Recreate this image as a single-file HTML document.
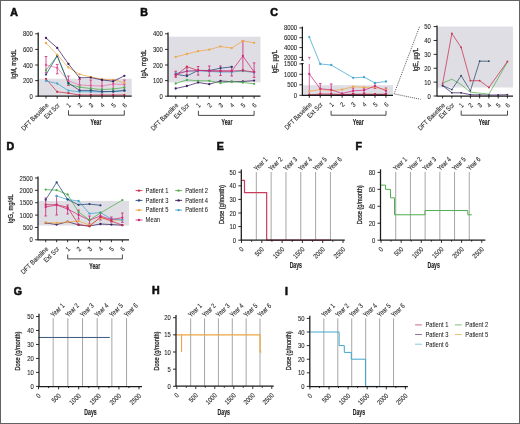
<!DOCTYPE html><html><head><meta charset="utf-8"><style>html,body{margin:0;padding:0;background:#fff;}svg{display:block;}text{font-family:"Liberation Sans", sans-serif;}</style></head><body>
<svg width="520" height="424" viewBox="0 0 520 424">
<rect x="0" y="0" width="520" height="424" fill="#fff"/>
<defs><filter id="soft" x="-2%" y="-2%" width="104%" height="104%"><feGaussianBlur stdDeviation="0.3"/></filter></defs>
<g filter="url(#soft)">
<text transform="translate(10.2,15.6)" font-size="10.6" font-weight="bold" fill="#111" stroke="#111" stroke-width="0.6">A</text>
<rect x="38.2" y="78.7" width="93.5" height="17.5" fill="#dfdee4"/>
<line x1="46" y1="56.5" x2="46" y2="72.8" stroke="#d12b7f" stroke-width="0.85"/>
<line x1="44.7" y1="56.5" x2="47.3" y2="56.5" stroke="#d12b7f" stroke-width="0.85"/>
<line x1="44.7" y1="72.8" x2="47.3" y2="72.8" stroke="#d12b7f" stroke-width="0.85"/>
<line x1="57.2" y1="64.4" x2="57.2" y2="73.8" stroke="#d12b7f" stroke-width="0.85"/>
<line x1="55.9" y1="64.4" x2="58.5" y2="64.4" stroke="#d12b7f" stroke-width="0.85"/>
<line x1="55.9" y1="73.8" x2="58.5" y2="73.8" stroke="#d12b7f" stroke-width="0.85"/>
<line x1="68.4" y1="76" x2="68.4" y2="85.5" stroke="#d12b7f" stroke-width="0.85"/>
<line x1="67.1" y1="76" x2="69.7" y2="76" stroke="#d12b7f" stroke-width="0.85"/>
<line x1="67.1" y1="85.5" x2="69.7" y2="85.5" stroke="#d12b7f" stroke-width="0.85"/>
<line x1="79.6" y1="79.5" x2="79.6" y2="91" stroke="#d12b7f" stroke-width="0.85"/>
<line x1="78.3" y1="79.5" x2="80.9" y2="79.5" stroke="#d12b7f" stroke-width="0.85"/>
<line x1="78.3" y1="91" x2="80.9" y2="91" stroke="#d12b7f" stroke-width="0.85"/>
<line x1="90.8" y1="80" x2="90.8" y2="92" stroke="#d12b7f" stroke-width="0.85"/>
<line x1="89.5" y1="80" x2="92.1" y2="80" stroke="#d12b7f" stroke-width="0.85"/>
<line x1="89.5" y1="92" x2="92.1" y2="92" stroke="#d12b7f" stroke-width="0.85"/>
<line x1="102" y1="80" x2="102" y2="93" stroke="#d12b7f" stroke-width="0.85"/>
<line x1="100.7" y1="80" x2="103.3" y2="80" stroke="#d12b7f" stroke-width="0.85"/>
<line x1="100.7" y1="93" x2="103.3" y2="93" stroke="#d12b7f" stroke-width="0.85"/>
<line x1="113.2" y1="79.5" x2="113.2" y2="92" stroke="#d12b7f" stroke-width="0.85"/>
<line x1="111.9" y1="79.5" x2="114.5" y2="79.5" stroke="#d12b7f" stroke-width="0.85"/>
<line x1="111.9" y1="92" x2="114.5" y2="92" stroke="#d12b7f" stroke-width="0.85"/>
<line x1="124.4" y1="80" x2="124.4" y2="91" stroke="#d12b7f" stroke-width="0.85"/>
<line x1="123.1" y1="80" x2="125.7" y2="80" stroke="#d12b7f" stroke-width="0.85"/>
<line x1="123.1" y1="91" x2="125.7" y2="91" stroke="#d12b7f" stroke-width="0.85"/>
<polyline points="46,78.8 57.2,91.8 68.4,93.1 79.6,95 90.8,95 102,95 113.2,95 124.4,95" fill="none" stroke="#c8304f" stroke-width="0.75" stroke-linejoin="round"/>
<circle cx="46" cy="78.8" r="1.15" fill="#c8304f"/>
<circle cx="57.2" cy="91.8" r="1.15" fill="#c8304f"/>
<circle cx="68.4" cy="93.1" r="1.15" fill="#c8304f"/>
<circle cx="79.6" cy="95" r="1.15" fill="#c8304f"/>
<circle cx="90.8" cy="95" r="1.15" fill="#c8304f"/>
<circle cx="102" cy="95" r="1.15" fill="#c8304f"/>
<circle cx="113.2" cy="95" r="1.15" fill="#c8304f"/>
<circle cx="124.4" cy="95" r="1.15" fill="#c8304f"/>
<polyline points="46,80.9 57.2,83.5 68.4,90.6 79.6,91.7 90.8,91.7 102,92 113.2,91.5 124.4,90.5" fill="none" stroke="#40a6cf" stroke-width="0.75" stroke-linejoin="round"/>
<circle cx="46" cy="80.9" r="1.15" fill="#40a6cf"/>
<circle cx="57.2" cy="83.5" r="1.15" fill="#40a6cf"/>
<circle cx="68.4" cy="90.6" r="1.15" fill="#40a6cf"/>
<circle cx="79.6" cy="91.7" r="1.15" fill="#40a6cf"/>
<circle cx="90.8" cy="91.7" r="1.15" fill="#40a6cf"/>
<circle cx="102" cy="92" r="1.15" fill="#40a6cf"/>
<circle cx="113.2" cy="91.5" r="1.15" fill="#40a6cf"/>
<circle cx="124.4" cy="90.5" r="1.15" fill="#40a6cf"/>
<polyline points="46,70.3 57.2,55.8 68.4,84 79.6,87.2 90.8,88.5 102,89.5 113.2,89 124.4,87.5" fill="none" stroke="#4fae4f" stroke-width="0.75" stroke-linejoin="round"/>
<circle cx="46" cy="70.3" r="1.15" fill="#4fae4f"/>
<circle cx="57.2" cy="55.8" r="1.15" fill="#4fae4f"/>
<circle cx="68.4" cy="84" r="1.15" fill="#4fae4f"/>
<circle cx="79.6" cy="87.2" r="1.15" fill="#4fae4f"/>
<circle cx="90.8" cy="88.5" r="1.15" fill="#4fae4f"/>
<circle cx="102" cy="89.5" r="1.15" fill="#4fae4f"/>
<circle cx="113.2" cy="89" r="1.15" fill="#4fae4f"/>
<circle cx="124.4" cy="87.5" r="1.15" fill="#4fae4f"/>
<polyline points="46,74.6 57.2,55.8 68.4,83 79.6,90.4 90.8,90.4 102,91.5 113.2,91.5 124.4,90.5" fill="none" stroke="#25477a" stroke-width="0.75" stroke-linejoin="round"/>
<circle cx="46" cy="74.6" r="1.15" fill="#25477a"/>
<circle cx="57.2" cy="55.8" r="1.15" fill="#25477a"/>
<circle cx="68.4" cy="83" r="1.15" fill="#25477a"/>
<circle cx="79.6" cy="90.4" r="1.15" fill="#25477a"/>
<circle cx="90.8" cy="90.4" r="1.15" fill="#25477a"/>
<circle cx="102" cy="91.5" r="1.15" fill="#25477a"/>
<circle cx="113.2" cy="91.5" r="1.15" fill="#25477a"/>
<circle cx="124.4" cy="90.5" r="1.15" fill="#25477a"/>
<polyline points="46,64.9 57.2,67.9 68.4,80.8 79.6,85 90.8,85.6 102,86 113.2,84 124.4,84.5" fill="none" stroke="#e05a98" stroke-width="0.6" stroke-linejoin="round"/>
<circle cx="46" cy="64.9" r="1.15" fill="#e05a98"/>
<circle cx="57.2" cy="67.9" r="1.15" fill="#e05a98"/>
<circle cx="68.4" cy="80.8" r="1.15" fill="#e05a98"/>
<circle cx="79.6" cy="85" r="1.15" fill="#e05a98"/>
<circle cx="90.8" cy="85.6" r="1.15" fill="#e05a98"/>
<circle cx="102" cy="86" r="1.15" fill="#e05a98"/>
<circle cx="113.2" cy="84" r="1.15" fill="#e05a98"/>
<circle cx="124.4" cy="84.5" r="1.15" fill="#e05a98"/>
<polyline points="46,43 57.2,54.8 68.4,67.4 79.6,74.3 90.8,77 102,79.2 113.2,79.8 124.4,82.7" fill="none" stroke="#eea544" stroke-width="0.75" stroke-linejoin="round"/>
<circle cx="46" cy="43" r="1.15" fill="#eea544"/>
<circle cx="57.2" cy="54.8" r="1.15" fill="#eea544"/>
<circle cx="68.4" cy="67.4" r="1.15" fill="#eea544"/>
<circle cx="79.6" cy="74.3" r="1.15" fill="#eea544"/>
<circle cx="90.8" cy="77" r="1.15" fill="#eea544"/>
<circle cx="102" cy="79.2" r="1.15" fill="#eea544"/>
<circle cx="113.2" cy="79.8" r="1.15" fill="#eea544"/>
<circle cx="124.4" cy="82.7" r="1.15" fill="#eea544"/>
<polyline points="46,38 57.2,47.9 68.4,63.9 79.6,77.8 90.8,77.6 102,79.9 113.2,81.3 124.4,75.8" fill="none" stroke="#3c1f5e" stroke-width="0.75" stroke-linejoin="round"/>
<circle cx="46" cy="38" r="1.15" fill="#3c1f5e"/>
<circle cx="57.2" cy="47.9" r="1.15" fill="#3c1f5e"/>
<circle cx="68.4" cy="63.9" r="1.15" fill="#3c1f5e"/>
<circle cx="79.6" cy="77.8" r="1.15" fill="#3c1f5e"/>
<circle cx="90.8" cy="77.6" r="1.15" fill="#3c1f5e"/>
<circle cx="102" cy="79.9" r="1.15" fill="#3c1f5e"/>
<circle cx="113.2" cy="81.3" r="1.15" fill="#3c1f5e"/>
<circle cx="124.4" cy="75.8" r="1.15" fill="#3c1f5e"/>
<line x1="38.2" y1="32.6" x2="38.2" y2="96.2" stroke="#1a1a1a" stroke-width="1.25"/>
<line x1="35.2" y1="33.8" x2="38.2" y2="33.8" stroke="#1a1a1a" stroke-width="0.9"/>
<text transform="translate(32.9,36.3) scale(0.88,1)" font-size="6.7" text-anchor="end" fill="#2a2a2a" stroke="#2a2a2a" stroke-width="0.1">800</text>
<line x1="35.2" y1="49.4" x2="38.2" y2="49.4" stroke="#1a1a1a" stroke-width="0.9"/>
<text transform="translate(32.9,51.9) scale(0.88,1)" font-size="6.7" text-anchor="end" fill="#2a2a2a" stroke="#2a2a2a" stroke-width="0.1">600</text>
<line x1="35.2" y1="65" x2="38.2" y2="65" stroke="#1a1a1a" stroke-width="0.9"/>
<text transform="translate(32.9,67.5) scale(0.88,1)" font-size="6.7" text-anchor="end" fill="#2a2a2a" stroke="#2a2a2a" stroke-width="0.1">400</text>
<line x1="35.2" y1="80.6" x2="38.2" y2="80.6" stroke="#1a1a1a" stroke-width="0.9"/>
<text transform="translate(32.9,83.1) scale(0.88,1)" font-size="6.7" text-anchor="end" fill="#2a2a2a" stroke="#2a2a2a" stroke-width="0.1">200</text>
<line x1="35.2" y1="96.2" x2="38.2" y2="96.2" stroke="#1a1a1a" stroke-width="0.9"/>
<text transform="translate(32.9,98.7) scale(0.88,1)" font-size="6.7" text-anchor="end" fill="#2a2a2a" stroke="#2a2a2a" stroke-width="0.1">0</text>
<text transform="translate(13.8,64.1) rotate(-90) scale(0.85,1)" font-size="6.9" text-anchor="middle" fill="#222" dominant-baseline="central" stroke="#222" stroke-width="0.25">IgM, mg/dL</text>
<line x1="37.7" y1="96.2" x2="131.7" y2="96.2" stroke="#1a1a1a" stroke-width="1.25"/>
<line x1="46" y1="96.2" x2="46" y2="98.6" stroke="#1a1a1a" stroke-width="0.9"/>
<line x1="57.2" y1="96.2" x2="57.2" y2="98.6" stroke="#1a1a1a" stroke-width="0.9"/>
<line x1="68.4" y1="96.2" x2="68.4" y2="98.6" stroke="#1a1a1a" stroke-width="0.9"/>
<line x1="79.6" y1="96.2" x2="79.6" y2="98.6" stroke="#1a1a1a" stroke-width="0.9"/>
<line x1="90.8" y1="96.2" x2="90.8" y2="98.6" stroke="#1a1a1a" stroke-width="0.9"/>
<line x1="102" y1="96.2" x2="102" y2="98.6" stroke="#1a1a1a" stroke-width="0.9"/>
<line x1="113.2" y1="96.2" x2="113.2" y2="98.6" stroke="#1a1a1a" stroke-width="0.9"/>
<line x1="124.4" y1="96.2" x2="124.4" y2="98.6" stroke="#1a1a1a" stroke-width="0.9"/>
<text transform="translate(49,105.8) rotate(-45) scale(0.88,1)" font-size="6.7" text-anchor="end" fill="#2a2a2a" stroke="#2a2a2a" stroke-width="0.1">DFT Baseline</text>
<text transform="translate(60.2,105.8) rotate(-45) scale(0.88,1)" font-size="6.7" text-anchor="end" fill="#2a2a2a" stroke="#2a2a2a" stroke-width="0.1">Ext Scr</text>
<text transform="translate(71.4,105.8) rotate(-45) scale(0.88,1)" font-size="6.7" text-anchor="end" fill="#2a2a2a" stroke="#2a2a2a" stroke-width="0.1">1</text>
<text transform="translate(82.6,105.8) rotate(-45) scale(0.88,1)" font-size="6.7" text-anchor="end" fill="#2a2a2a" stroke="#2a2a2a" stroke-width="0.1">2</text>
<text transform="translate(93.8,105.8) rotate(-45) scale(0.88,1)" font-size="6.7" text-anchor="end" fill="#2a2a2a" stroke="#2a2a2a" stroke-width="0.1">3</text>
<text transform="translate(105,105.8) rotate(-45) scale(0.88,1)" font-size="6.7" text-anchor="end" fill="#2a2a2a" stroke="#2a2a2a" stroke-width="0.1">4</text>
<text transform="translate(116.2,105.8) rotate(-45) scale(0.88,1)" font-size="6.7" text-anchor="end" fill="#2a2a2a" stroke="#2a2a2a" stroke-width="0.1">5</text>
<text transform="translate(127.4,105.8) rotate(-45) scale(0.88,1)" font-size="6.7" text-anchor="end" fill="#2a2a2a" stroke="#2a2a2a" stroke-width="0.1">6</text>
<polyline points="68.5,110.3 68.5,115.2 124.3,115.2 124.3,110.3" fill="none" stroke="#333" stroke-width="0.9" stroke-linejoin="round"/>
<text transform="translate(96,125.2) scale(0.6,1)" font-size="8.6" text-anchor="middle" font-weight="bold" fill="#222" stroke="#222" stroke-width="0.15">Year</text>
<text transform="translate(140.2,15.6)" font-size="10.6" font-weight="bold" fill="#111" stroke="#111" stroke-width="0.6">B</text>
<rect x="168" y="36.7" width="92.5" height="45.6" fill="#dfdee4"/>
<line x1="175.7" y1="71.2" x2="175.7" y2="77.3" stroke="#d12b7f" stroke-width="0.85"/>
<line x1="174.4" y1="71.2" x2="177" y2="71.2" stroke="#d12b7f" stroke-width="0.85"/>
<line x1="174.4" y1="77.3" x2="177" y2="77.3" stroke="#d12b7f" stroke-width="0.85"/>
<line x1="186.9" y1="68" x2="186.9" y2="74.5" stroke="#d12b7f" stroke-width="0.85"/>
<line x1="185.6" y1="68" x2="188.2" y2="68" stroke="#d12b7f" stroke-width="0.85"/>
<line x1="185.6" y1="74.5" x2="188.2" y2="74.5" stroke="#d12b7f" stroke-width="0.85"/>
<line x1="198.1" y1="66.5" x2="198.1" y2="75.1" stroke="#d12b7f" stroke-width="0.85"/>
<line x1="196.8" y1="66.5" x2="199.4" y2="66.5" stroke="#d12b7f" stroke-width="0.85"/>
<line x1="196.8" y1="75.1" x2="199.4" y2="75.1" stroke="#d12b7f" stroke-width="0.85"/>
<line x1="209.3" y1="66" x2="209.3" y2="76" stroke="#d12b7f" stroke-width="0.85"/>
<line x1="208" y1="66" x2="210.6" y2="66" stroke="#d12b7f" stroke-width="0.85"/>
<line x1="208" y1="76" x2="210.6" y2="76" stroke="#d12b7f" stroke-width="0.85"/>
<line x1="220.5" y1="66" x2="220.5" y2="75.5" stroke="#d12b7f" stroke-width="0.85"/>
<line x1="219.2" y1="66" x2="221.8" y2="66" stroke="#d12b7f" stroke-width="0.85"/>
<line x1="219.2" y1="75.5" x2="221.8" y2="75.5" stroke="#d12b7f" stroke-width="0.85"/>
<line x1="231.7" y1="66.5" x2="231.7" y2="76" stroke="#d12b7f" stroke-width="0.85"/>
<line x1="230.4" y1="66.5" x2="233" y2="66.5" stroke="#d12b7f" stroke-width="0.85"/>
<line x1="230.4" y1="76" x2="233" y2="76" stroke="#d12b7f" stroke-width="0.85"/>
<line x1="242.9" y1="40.9" x2="242.9" y2="70" stroke="#d12b7f" stroke-width="0.85"/>
<line x1="241.6" y1="40.9" x2="244.2" y2="40.9" stroke="#d12b7f" stroke-width="0.85"/>
<line x1="241.6" y1="70" x2="244.2" y2="70" stroke="#d12b7f" stroke-width="0.85"/>
<line x1="254.1" y1="62.9" x2="254.1" y2="77.4" stroke="#d12b7f" stroke-width="0.85"/>
<line x1="252.8" y1="62.9" x2="255.4" y2="62.9" stroke="#d12b7f" stroke-width="0.85"/>
<line x1="252.8" y1="77.4" x2="255.4" y2="77.4" stroke="#d12b7f" stroke-width="0.85"/>
<polyline points="175.7,88.5 186.9,86 198.1,82.5 209.3,84.2 220.5,81 231.7,81.7 242.9,81.5 254.1,80.6" fill="none" stroke="#3c1f5e" stroke-width="0.75" stroke-linejoin="round"/>
<circle cx="175.7" cy="88.5" r="1.15" fill="#3c1f5e"/>
<circle cx="186.9" cy="86" r="1.15" fill="#3c1f5e"/>
<circle cx="198.1" cy="82.5" r="1.15" fill="#3c1f5e"/>
<circle cx="209.3" cy="84.2" r="1.15" fill="#3c1f5e"/>
<circle cx="220.5" cy="81" r="1.15" fill="#3c1f5e"/>
<circle cx="231.7" cy="81.7" r="1.15" fill="#3c1f5e"/>
<circle cx="242.9" cy="81.5" r="1.15" fill="#3c1f5e"/>
<circle cx="254.1" cy="80.6" r="1.15" fill="#3c1f5e"/>
<polyline points="175.7,83.5 186.9,79.9 198.1,80.8 209.3,80.8 220.5,83 231.7,81.7 242.9,82.5 254.1,83.8" fill="none" stroke="#4fae4f" stroke-width="0.75" stroke-linejoin="round"/>
<circle cx="175.7" cy="83.5" r="1.15" fill="#4fae4f"/>
<circle cx="186.9" cy="79.9" r="1.15" fill="#4fae4f"/>
<circle cx="198.1" cy="80.8" r="1.15" fill="#4fae4f"/>
<circle cx="209.3" cy="80.8" r="1.15" fill="#4fae4f"/>
<circle cx="220.5" cy="83" r="1.15" fill="#4fae4f"/>
<circle cx="231.7" cy="81.7" r="1.15" fill="#4fae4f"/>
<circle cx="242.9" cy="82.5" r="1.15" fill="#4fae4f"/>
<circle cx="254.1" cy="83.8" r="1.15" fill="#4fae4f"/>
<polyline points="175.7,73.5 186.9,71.2 198.1,70.8 209.3,71.5 220.5,72 231.7,72 242.9,71 254.1,72.5" fill="none" stroke="#40a6cf" stroke-width="0.75" stroke-linejoin="round"/>
<circle cx="175.7" cy="73.5" r="1.15" fill="#40a6cf"/>
<circle cx="186.9" cy="71.2" r="1.15" fill="#40a6cf"/>
<circle cx="198.1" cy="70.8" r="1.15" fill="#40a6cf"/>
<circle cx="209.3" cy="71.5" r="1.15" fill="#40a6cf"/>
<circle cx="220.5" cy="72" r="1.15" fill="#40a6cf"/>
<circle cx="231.7" cy="72" r="1.15" fill="#40a6cf"/>
<circle cx="242.9" cy="71" r="1.15" fill="#40a6cf"/>
<circle cx="254.1" cy="72.5" r="1.15" fill="#40a6cf"/>
<polyline points="175.7,74.3 186.9,76 198.1,70.4 209.3,70.5 220.5,68.2 231.7,66.9" fill="none" stroke="#25477a" stroke-width="0.75" stroke-linejoin="round"/>
<circle cx="175.7" cy="74.3" r="1.15" fill="#25477a"/>
<circle cx="186.9" cy="76" r="1.15" fill="#25477a"/>
<circle cx="198.1" cy="70.4" r="1.15" fill="#25477a"/>
<circle cx="209.3" cy="70.5" r="1.15" fill="#25477a"/>
<circle cx="220.5" cy="68.2" r="1.15" fill="#25477a"/>
<circle cx="231.7" cy="66.9" r="1.15" fill="#25477a"/>
<polyline points="175.7,75.6 186.9,66.7 198.1,70.4 209.3,70.8 220.5,71 231.7,71 242.9,70.5 254.1,72" fill="none" stroke="#c8304f" stroke-width="0.75" stroke-linejoin="round"/>
<circle cx="175.7" cy="75.6" r="1.15" fill="#c8304f"/>
<circle cx="186.9" cy="66.7" r="1.15" fill="#c8304f"/>
<circle cx="198.1" cy="70.4" r="1.15" fill="#c8304f"/>
<circle cx="209.3" cy="70.8" r="1.15" fill="#c8304f"/>
<circle cx="220.5" cy="71" r="1.15" fill="#c8304f"/>
<circle cx="231.7" cy="71" r="1.15" fill="#c8304f"/>
<circle cx="242.9" cy="70.5" r="1.15" fill="#c8304f"/>
<circle cx="254.1" cy="72" r="1.15" fill="#c8304f"/>
<polyline points="175.7,74.5 186.9,71.2 198.1,70.4 209.3,70.8 220.5,71 231.7,71 242.9,56 254.1,72" fill="none" stroke="#d12b7f" stroke-width="0.75" stroke-linejoin="round"/>
<circle cx="175.7" cy="74.5" r="1.15" fill="#d12b7f"/>
<circle cx="186.9" cy="71.2" r="1.15" fill="#d12b7f"/>
<circle cx="198.1" cy="70.4" r="1.15" fill="#d12b7f"/>
<circle cx="209.3" cy="70.8" r="1.15" fill="#d12b7f"/>
<circle cx="220.5" cy="71" r="1.15" fill="#d12b7f"/>
<circle cx="231.7" cy="71" r="1.15" fill="#d12b7f"/>
<circle cx="242.9" cy="56" r="1.15" fill="#d12b7f"/>
<circle cx="254.1" cy="72" r="1.15" fill="#d12b7f"/>
<polyline points="175.7,56.9 186.9,54 198.1,51.2 209.3,49.6 220.5,46.4 231.7,48.1 242.9,40.9 254.1,42.8" fill="none" stroke="#eea544" stroke-width="0.75" stroke-linejoin="round"/>
<circle cx="175.7" cy="56.9" r="1.15" fill="#eea544"/>
<circle cx="186.9" cy="54" r="1.15" fill="#eea544"/>
<circle cx="198.1" cy="51.2" r="1.15" fill="#eea544"/>
<circle cx="209.3" cy="49.6" r="1.15" fill="#eea544"/>
<circle cx="220.5" cy="46.4" r="1.15" fill="#eea544"/>
<circle cx="231.7" cy="48.1" r="1.15" fill="#eea544"/>
<circle cx="242.9" cy="40.9" r="1.15" fill="#eea544"/>
<circle cx="254.1" cy="42.8" r="1.15" fill="#eea544"/>
<line x1="168" y1="32.6" x2="168" y2="96.2" stroke="#1a1a1a" stroke-width="1.25"/>
<line x1="165" y1="33.8" x2="168" y2="33.8" stroke="#1a1a1a" stroke-width="0.9"/>
<text transform="translate(162.7,36.3) scale(0.88,1)" font-size="6.7" text-anchor="end" fill="#2a2a2a" stroke="#2a2a2a" stroke-width="0.1">400</text>
<line x1="165" y1="49.4" x2="168" y2="49.4" stroke="#1a1a1a" stroke-width="0.9"/>
<text transform="translate(162.7,51.9) scale(0.88,1)" font-size="6.7" text-anchor="end" fill="#2a2a2a" stroke="#2a2a2a" stroke-width="0.1">300</text>
<line x1="165" y1="65" x2="168" y2="65" stroke="#1a1a1a" stroke-width="0.9"/>
<text transform="translate(162.7,67.5) scale(0.88,1)" font-size="6.7" text-anchor="end" fill="#2a2a2a" stroke="#2a2a2a" stroke-width="0.1">200</text>
<line x1="165" y1="80.6" x2="168" y2="80.6" stroke="#1a1a1a" stroke-width="0.9"/>
<text transform="translate(162.7,83.1) scale(0.88,1)" font-size="6.7" text-anchor="end" fill="#2a2a2a" stroke="#2a2a2a" stroke-width="0.1">100</text>
<line x1="165" y1="96.2" x2="168" y2="96.2" stroke="#1a1a1a" stroke-width="0.9"/>
<text transform="translate(162.7,98.7) scale(0.88,1)" font-size="6.7" text-anchor="end" fill="#2a2a2a" stroke="#2a2a2a" stroke-width="0.1">0</text>
<text transform="translate(143.5,64) rotate(-90) scale(0.85,1)" font-size="6.9" text-anchor="middle" fill="#222" dominant-baseline="central" stroke="#222" stroke-width="0.25">IgA, mg/dL</text>
<line x1="167.5" y1="96.2" x2="260.5" y2="96.2" stroke="#1a1a1a" stroke-width="1.25"/>
<line x1="175.7" y1="96.2" x2="175.7" y2="98.6" stroke="#1a1a1a" stroke-width="0.9"/>
<line x1="186.9" y1="96.2" x2="186.9" y2="98.6" stroke="#1a1a1a" stroke-width="0.9"/>
<line x1="198.1" y1="96.2" x2="198.1" y2="98.6" stroke="#1a1a1a" stroke-width="0.9"/>
<line x1="209.3" y1="96.2" x2="209.3" y2="98.6" stroke="#1a1a1a" stroke-width="0.9"/>
<line x1="220.5" y1="96.2" x2="220.5" y2="98.6" stroke="#1a1a1a" stroke-width="0.9"/>
<line x1="231.7" y1="96.2" x2="231.7" y2="98.6" stroke="#1a1a1a" stroke-width="0.9"/>
<line x1="242.9" y1="96.2" x2="242.9" y2="98.6" stroke="#1a1a1a" stroke-width="0.9"/>
<line x1="254.1" y1="96.2" x2="254.1" y2="98.6" stroke="#1a1a1a" stroke-width="0.9"/>
<text transform="translate(178.7,105.8) rotate(-45) scale(0.88,1)" font-size="6.7" text-anchor="end" fill="#2a2a2a" stroke="#2a2a2a" stroke-width="0.1">DFT Baseline</text>
<text transform="translate(189.9,105.8) rotate(-45) scale(0.88,1)" font-size="6.7" text-anchor="end" fill="#2a2a2a" stroke="#2a2a2a" stroke-width="0.1">Ext Scr</text>
<text transform="translate(201.1,105.8) rotate(-45) scale(0.88,1)" font-size="6.7" text-anchor="end" fill="#2a2a2a" stroke="#2a2a2a" stroke-width="0.1">1</text>
<text transform="translate(212.3,105.8) rotate(-45) scale(0.88,1)" font-size="6.7" text-anchor="end" fill="#2a2a2a" stroke="#2a2a2a" stroke-width="0.1">2</text>
<text transform="translate(223.5,105.8) rotate(-45) scale(0.88,1)" font-size="6.7" text-anchor="end" fill="#2a2a2a" stroke="#2a2a2a" stroke-width="0.1">3</text>
<text transform="translate(234.7,105.8) rotate(-45) scale(0.88,1)" font-size="6.7" text-anchor="end" fill="#2a2a2a" stroke="#2a2a2a" stroke-width="0.1">4</text>
<text transform="translate(245.9,105.8) rotate(-45) scale(0.88,1)" font-size="6.7" text-anchor="end" fill="#2a2a2a" stroke="#2a2a2a" stroke-width="0.1">5</text>
<text transform="translate(257.1,105.8) rotate(-45) scale(0.88,1)" font-size="6.7" text-anchor="end" fill="#2a2a2a" stroke="#2a2a2a" stroke-width="0.1">6</text>
<polyline points="198.4,110.8 198.4,115.4 254.1,115.4 254.1,110.8" fill="none" stroke="#333" stroke-width="0.9" stroke-linejoin="round"/>
<text transform="translate(227,125) scale(0.6,1)" font-size="8.6" text-anchor="middle" font-weight="bold" fill="#222" stroke="#222" stroke-width="0.15">Year</text>
<text transform="translate(270.3,15.7)" font-size="10.6" font-weight="bold" fill="#111" stroke="#111" stroke-width="0.6">C</text>
<rect x="302.4" y="85.2" width="90.6" height="10.2" fill="#dfdee4"/>
<line x1="320.25" y1="83.6" x2="320.25" y2="95" stroke="#d12b7f" stroke-width="0.85"/>
<line x1="318.95" y1="83.6" x2="321.55" y2="83.6" stroke="#d12b7f" stroke-width="0.85"/>
<line x1="318.95" y1="95" x2="321.55" y2="95" stroke="#d12b7f" stroke-width="0.85"/>
<line x1="331.2" y1="84" x2="331.2" y2="95" stroke="#d12b7f" stroke-width="0.85"/>
<line x1="329.9" y1="84" x2="332.5" y2="84" stroke="#d12b7f" stroke-width="0.85"/>
<line x1="329.9" y1="95" x2="332.5" y2="95" stroke="#d12b7f" stroke-width="0.85"/>
<line x1="353.1" y1="88" x2="353.1" y2="93.5" stroke="#d12b7f" stroke-width="0.85"/>
<line x1="351.8" y1="88" x2="354.4" y2="88" stroke="#d12b7f" stroke-width="0.85"/>
<line x1="351.8" y1="93.5" x2="354.4" y2="93.5" stroke="#d12b7f" stroke-width="0.85"/>
<line x1="364.05" y1="88" x2="364.05" y2="93" stroke="#d12b7f" stroke-width="0.85"/>
<line x1="362.75" y1="88" x2="365.35" y2="88" stroke="#d12b7f" stroke-width="0.85"/>
<line x1="362.75" y1="93" x2="365.35" y2="93" stroke="#d12b7f" stroke-width="0.85"/>
<line x1="375" y1="83.6" x2="375" y2="88.5" stroke="#d12b7f" stroke-width="0.85"/>
<line x1="373.7" y1="83.6" x2="376.3" y2="83.6" stroke="#d12b7f" stroke-width="0.85"/>
<line x1="373.7" y1="88.5" x2="376.3" y2="88.5" stroke="#d12b7f" stroke-width="0.85"/>
<line x1="385.95" y1="88" x2="385.95" y2="93.5" stroke="#d12b7f" stroke-width="0.85"/>
<line x1="384.65" y1="88" x2="387.25" y2="88" stroke="#d12b7f" stroke-width="0.85"/>
<line x1="384.65" y1="93.5" x2="387.25" y2="93.5" stroke="#d12b7f" stroke-width="0.85"/>
<line x1="309.3" y1="57.4" x2="309.3" y2="59.6" stroke="#d12b7f" stroke-width="0.7"/>
<line x1="308.1" y1="57.4" x2="310.5" y2="57.4" stroke="#d12b7f" stroke-width="0.7"/>
<line x1="309.3" y1="64" x2="309.3" y2="95" stroke="#d12b7f" stroke-width="0.7"/>
<polyline points="309.3,95 320.25,95 331.2,95 342.15,94.5 353.1,94.5 364.05,94.5 375,94.5 385.95,94.5" fill="none" stroke="#3c1f5e" stroke-width="0.75" stroke-linejoin="round"/>
<circle cx="309.3" cy="95" r="1.15" fill="#3c1f5e"/>
<circle cx="320.25" cy="95" r="1.15" fill="#3c1f5e"/>
<circle cx="331.2" cy="95" r="1.15" fill="#3c1f5e"/>
<circle cx="342.15" cy="94.5" r="1.15" fill="#3c1f5e"/>
<circle cx="353.1" cy="94.5" r="1.15" fill="#3c1f5e"/>
<circle cx="364.05" cy="94.5" r="1.15" fill="#3c1f5e"/>
<circle cx="375" cy="94.5" r="1.15" fill="#3c1f5e"/>
<circle cx="385.95" cy="94.5" r="1.15" fill="#3c1f5e"/>
<polyline points="309.3,95 320.25,94 331.2,94 342.15,94.5 353.1,94.2 364.05,94.2 375,94.2 385.95,94.2" fill="none" stroke="#c8304f" stroke-width="0.75" stroke-linejoin="round"/>
<circle cx="309.3" cy="95" r="1.15" fill="#c8304f"/>
<circle cx="320.25" cy="94" r="1.15" fill="#c8304f"/>
<circle cx="331.2" cy="94" r="1.15" fill="#c8304f"/>
<circle cx="342.15" cy="94.5" r="1.15" fill="#c8304f"/>
<circle cx="353.1" cy="94.2" r="1.15" fill="#c8304f"/>
<circle cx="364.05" cy="94.2" r="1.15" fill="#c8304f"/>
<circle cx="375" cy="94.2" r="1.15" fill="#c8304f"/>
<circle cx="385.95" cy="94.2" r="1.15" fill="#c8304f"/>
<polyline points="309.3,91.3 320.25,89.5 331.2,90.5 342.15,89.6 353.1,86.7 364.05,87.3 375,87.3 385.95,89.6" fill="none" stroke="#eea544" stroke-width="0.75" stroke-linejoin="round"/>
<circle cx="309.3" cy="91.3" r="1.15" fill="#eea544"/>
<circle cx="320.25" cy="89.5" r="1.15" fill="#eea544"/>
<circle cx="331.2" cy="90.5" r="1.15" fill="#eea544"/>
<circle cx="342.15" cy="89.6" r="1.15" fill="#eea544"/>
<circle cx="353.1" cy="86.7" r="1.15" fill="#eea544"/>
<circle cx="364.05" cy="87.3" r="1.15" fill="#eea544"/>
<circle cx="375" cy="87.3" r="1.15" fill="#eea544"/>
<circle cx="385.95" cy="89.6" r="1.15" fill="#eea544"/>
<polyline points="309.3,74 320.25,88.8 331.2,89.8 342.15,93.5 353.1,90.8 364.05,90.2 375,86.1 385.95,90.8" fill="none" stroke="#d12b7f" stroke-width="0.75" stroke-linejoin="round"/>
<circle cx="309.3" cy="74" r="1.15" fill="#d12b7f"/>
<circle cx="320.25" cy="88.8" r="1.15" fill="#d12b7f"/>
<circle cx="331.2" cy="89.8" r="1.15" fill="#d12b7f"/>
<circle cx="342.15" cy="93.5" r="1.15" fill="#d12b7f"/>
<circle cx="353.1" cy="90.8" r="1.15" fill="#d12b7f"/>
<circle cx="364.05" cy="90.2" r="1.15" fill="#d12b7f"/>
<circle cx="375" cy="86.1" r="1.15" fill="#d12b7f"/>
<circle cx="385.95" cy="90.8" r="1.15" fill="#d12b7f"/>
<polyline points="309.3,37.1 320.25,64 331.2,65 353.1,77.8 364.05,77.2 375,82.9 385.95,81.5" fill="none" stroke="#40a6cf" stroke-width="0.75" stroke-linejoin="round"/>
<circle cx="309.3" cy="37.1" r="1.15" fill="#40a6cf"/>
<circle cx="320.25" cy="64" r="1.15" fill="#40a6cf"/>
<circle cx="331.2" cy="65" r="1.15" fill="#40a6cf"/>
<circle cx="353.1" cy="77.8" r="1.15" fill="#40a6cf"/>
<circle cx="364.05" cy="77.2" r="1.15" fill="#40a6cf"/>
<circle cx="375" cy="82.9" r="1.15" fill="#40a6cf"/>
<circle cx="385.95" cy="81.5" r="1.15" fill="#40a6cf"/>
<line x1="302.4" y1="26.6" x2="302.4" y2="60.2" stroke="#1a1a1a" stroke-width="1.25"/>
<path d="M300.9,60.8 L303.9,60.8 L302.4,58.6 Z" fill="#1a1a1a"/>
<line x1="299.4" y1="27.9" x2="302.4" y2="27.9" stroke="#1a1a1a" stroke-width="0.9"/>
<text transform="translate(297.1,30.4) scale(0.88,1)" font-size="6.7" text-anchor="end" fill="#2a2a2a" stroke="#2a2a2a" stroke-width="0.1">8000</text>
<line x1="299.4" y1="37.7" x2="302.4" y2="37.7" stroke="#1a1a1a" stroke-width="0.9"/>
<text transform="translate(297.1,40.2) scale(0.88,1)" font-size="6.7" text-anchor="end" fill="#2a2a2a" stroke="#2a2a2a" stroke-width="0.1">6000</text>
<line x1="299.4" y1="47.6" x2="302.4" y2="47.6" stroke="#1a1a1a" stroke-width="0.9"/>
<text transform="translate(297.1,50.1) scale(0.88,1)" font-size="6.7" text-anchor="end" fill="#2a2a2a" stroke="#2a2a2a" stroke-width="0.1">4000</text>
<line x1="299.4" y1="57.4" x2="302.4" y2="57.4" stroke="#1a1a1a" stroke-width="0.9"/>
<text transform="translate(297.1,59.9) scale(0.88,1)" font-size="6.7" text-anchor="end" fill="#2a2a2a" stroke="#2a2a2a" stroke-width="0.1">2000</text>
<line x1="302.4" y1="63.4" x2="302.4" y2="95.4" stroke="#1a1a1a" stroke-width="1.25"/>
<path d="M300.9,63 L303.9,63 L302.4,65.2 Z" fill="#1a1a1a"/>
<line x1="299.4" y1="63.9" x2="302.4" y2="63.9" stroke="#1a1a1a" stroke-width="0.9"/>
<text transform="translate(297.1,66.4) scale(0.88,1)" font-size="6.7" text-anchor="end" fill="#2a2a2a" stroke="#2a2a2a" stroke-width="0.1">1500</text>
<line x1="299.4" y1="74.3" x2="302.4" y2="74.3" stroke="#1a1a1a" stroke-width="0.9"/>
<text transform="translate(297.1,76.8) scale(0.88,1)" font-size="6.7" text-anchor="end" fill="#2a2a2a" stroke="#2a2a2a" stroke-width="0.1">1000</text>
<line x1="299.4" y1="84.8" x2="302.4" y2="84.8" stroke="#1a1a1a" stroke-width="0.9"/>
<text transform="translate(297.1,87.3) scale(0.88,1)" font-size="6.7" text-anchor="end" fill="#2a2a2a" stroke="#2a2a2a" stroke-width="0.1">500</text>
<line x1="299.4" y1="95.3" x2="302.4" y2="95.3" stroke="#1a1a1a" stroke-width="0.9"/>
<text transform="translate(297.1,97.8) scale(0.88,1)" font-size="6.7" text-anchor="end" fill="#2a2a2a" stroke="#2a2a2a" stroke-width="0.1">0</text>
<text transform="translate(274.1,61.8) rotate(-90) scale(0.85,1)" font-size="6.9" text-anchor="middle" fill="#222" dominant-baseline="central" stroke="#222" stroke-width="0.25">IgE, µg/L</text>
<line x1="301.9" y1="95.4" x2="393" y2="95.4" stroke="#1a1a1a" stroke-width="1.25"/>
<line x1="309.3" y1="95.4" x2="309.3" y2="97.8" stroke="#1a1a1a" stroke-width="0.9"/>
<line x1="320.25" y1="95.4" x2="320.25" y2="97.8" stroke="#1a1a1a" stroke-width="0.9"/>
<line x1="331.2" y1="95.4" x2="331.2" y2="97.8" stroke="#1a1a1a" stroke-width="0.9"/>
<line x1="342.15" y1="95.4" x2="342.15" y2="97.8" stroke="#1a1a1a" stroke-width="0.9"/>
<line x1="353.1" y1="95.4" x2="353.1" y2="97.8" stroke="#1a1a1a" stroke-width="0.9"/>
<line x1="364.05" y1="95.4" x2="364.05" y2="97.8" stroke="#1a1a1a" stroke-width="0.9"/>
<line x1="375" y1="95.4" x2="375" y2="97.8" stroke="#1a1a1a" stroke-width="0.9"/>
<line x1="385.95" y1="95.4" x2="385.95" y2="97.8" stroke="#1a1a1a" stroke-width="0.9"/>
<text transform="translate(312.3,105) rotate(-45) scale(0.88,1)" font-size="6.7" text-anchor="end" fill="#2a2a2a" stroke="#2a2a2a" stroke-width="0.1">DFT Baseline</text>
<text transform="translate(323.25,105) rotate(-45) scale(0.88,1)" font-size="6.7" text-anchor="end" fill="#2a2a2a" stroke="#2a2a2a" stroke-width="0.1">Ext Scr</text>
<text transform="translate(334.2,105) rotate(-45) scale(0.88,1)" font-size="6.7" text-anchor="end" fill="#2a2a2a" stroke="#2a2a2a" stroke-width="0.1">1</text>
<text transform="translate(345.15,105) rotate(-45) scale(0.88,1)" font-size="6.7" text-anchor="end" fill="#2a2a2a" stroke="#2a2a2a" stroke-width="0.1">2</text>
<text transform="translate(356.1,105) rotate(-45) scale(0.88,1)" font-size="6.7" text-anchor="end" fill="#2a2a2a" stroke="#2a2a2a" stroke-width="0.1">3</text>
<text transform="translate(367.05,105) rotate(-45) scale(0.88,1)" font-size="6.7" text-anchor="end" fill="#2a2a2a" stroke="#2a2a2a" stroke-width="0.1">4</text>
<text transform="translate(378,105) rotate(-45) scale(0.88,1)" font-size="6.7" text-anchor="end" fill="#2a2a2a" stroke="#2a2a2a" stroke-width="0.1">5</text>
<text transform="translate(388.95,105) rotate(-45) scale(0.88,1)" font-size="6.7" text-anchor="end" fill="#2a2a2a" stroke="#2a2a2a" stroke-width="0.1">6</text>
<polyline points="331.1,110.8 331.1,115.2 386,115.2 386,110.8" fill="none" stroke="#333" stroke-width="0.9" stroke-linejoin="round"/>
<text transform="translate(358.2,125) scale(0.6,1)" font-size="8.6" text-anchor="middle" font-weight="bold" fill="#222" stroke="#222" stroke-width="0.15">Year</text>
<line x1="394.2" y1="93.6" x2="419.8" y2="26" stroke="#333" stroke-width="0.9" stroke-dasharray="0.9,1.1"/>
<line x1="394.6" y1="94" x2="420.6" y2="99.3" stroke="#333" stroke-width="0.9" stroke-dasharray="0.9,1.1"/>
<rect x="437" y="26.6" width="76" height="60.9" fill="#dfdee4"/>
<polyline points="442.6,85.6 451.86,92.8 461.12,92.8 470.38,94.7 479.64,94.9 488.9,95 498.16,95 507.42,94.7" fill="none" stroke="#3c1f5e" stroke-width="0.75" stroke-linejoin="round"/>
<circle cx="442.6" cy="85.6" r="0.9" fill="#3c1f5e"/>
<circle cx="451.86" cy="92.8" r="0.9" fill="#3c1f5e"/>
<circle cx="461.12" cy="92.8" r="0.9" fill="#3c1f5e"/>
<circle cx="470.38" cy="94.7" r="0.9" fill="#3c1f5e"/>
<circle cx="479.64" cy="94.9" r="0.9" fill="#3c1f5e"/>
<circle cx="488.9" cy="95" r="0.9" fill="#3c1f5e"/>
<circle cx="498.16" cy="95" r="0.9" fill="#3c1f5e"/>
<circle cx="507.42" cy="94.7" r="0.9" fill="#3c1f5e"/>
<polyline points="442.6,83.1 451.86,79.2 461.12,84.6 470.38,92.2 479.64,93.2 488.9,94.2 507.42,62" fill="none" stroke="#4fae4f" stroke-width="0.75" stroke-linejoin="round"/>
<polyline points="442.6,85.6 451.86,89.6 461.12,75.6 470.38,90.8 479.64,61.2 488.9,61.2" fill="none" stroke="#2e4a66" stroke-width="0.75" stroke-linejoin="round"/>
<circle cx="442.6" cy="85.6" r="0.9" fill="#2e4a66"/>
<circle cx="451.86" cy="89.6" r="0.9" fill="#2e4a66"/>
<circle cx="461.12" cy="75.6" r="0.9" fill="#2e4a66"/>
<circle cx="470.38" cy="90.8" r="0.9" fill="#2e4a66"/>
<circle cx="479.64" cy="61.2" r="0.9" fill="#2e4a66"/>
<circle cx="488.9" cy="61.2" r="0.9" fill="#2e4a66"/>
<polyline points="442.6,83.9 451.86,33.5 461.12,47.4 470.38,80.7 479.64,80.7 488.9,87.5 507.42,61.5" fill="none" stroke="#c8304f" stroke-width="0.75" stroke-linejoin="round"/>
<circle cx="442.6" cy="83.9" r="0.9" fill="#c8304f"/>
<circle cx="451.86" cy="33.5" r="0.9" fill="#c8304f"/>
<circle cx="461.12" cy="47.4" r="0.9" fill="#c8304f"/>
<circle cx="470.38" cy="80.7" r="0.9" fill="#c8304f"/>
<circle cx="479.64" cy="80.7" r="0.9" fill="#c8304f"/>
<circle cx="488.9" cy="87.5" r="0.9" fill="#c8304f"/>
<circle cx="507.42" cy="61.5" r="0.9" fill="#c8304f"/>
<line x1="437" y1="25.4" x2="437" y2="96" stroke="#1a1a1a" stroke-width="1.25"/>
<line x1="433.6" y1="26.6" x2="437" y2="26.6" stroke="#1a1a1a" stroke-width="0.9"/>
<text transform="translate(430.8,29.1) scale(0.88,1)" font-size="6.7" text-anchor="end" fill="#2a2a2a" stroke="#2a2a2a" stroke-width="0.1">50</text>
<line x1="433.6" y1="40.48" x2="437" y2="40.48" stroke="#1a1a1a" stroke-width="0.9"/>
<text transform="translate(430.8,42.98) scale(0.88,1)" font-size="6.7" text-anchor="end" fill="#2a2a2a" stroke="#2a2a2a" stroke-width="0.1">40</text>
<line x1="433.6" y1="54.36" x2="437" y2="54.36" stroke="#1a1a1a" stroke-width="0.9"/>
<text transform="translate(430.8,56.86) scale(0.88,1)" font-size="6.7" text-anchor="end" fill="#2a2a2a" stroke="#2a2a2a" stroke-width="0.1">30</text>
<line x1="433.6" y1="68.24" x2="437" y2="68.24" stroke="#1a1a1a" stroke-width="0.9"/>
<text transform="translate(430.8,70.74) scale(0.88,1)" font-size="6.7" text-anchor="end" fill="#2a2a2a" stroke="#2a2a2a" stroke-width="0.1">20</text>
<line x1="433.6" y1="82.12" x2="437" y2="82.12" stroke="#1a1a1a" stroke-width="0.9"/>
<text transform="translate(430.8,84.62) scale(0.88,1)" font-size="6.7" text-anchor="end" fill="#2a2a2a" stroke="#2a2a2a" stroke-width="0.1">10</text>
<line x1="433.6" y1="96" x2="437" y2="96" stroke="#1a1a1a" stroke-width="0.9"/>
<text transform="translate(430.8,98.5) scale(0.88,1)" font-size="6.7" text-anchor="end" fill="#2a2a2a" stroke="#2a2a2a" stroke-width="0.1">0</text>
<text transform="translate(415.8,59.8) rotate(-90) scale(0.85,1)" font-size="6.9" text-anchor="middle" fill="#222" dominant-baseline="central" stroke="#222" stroke-width="0.25">IgE, µg/L</text>
<line x1="436.5" y1="96" x2="513" y2="96" stroke="#1a1a1a" stroke-width="1.25"/>
<line x1="442.6" y1="96" x2="442.6" y2="98.4" stroke="#1a1a1a" stroke-width="0.9"/>
<line x1="451.86" y1="96" x2="451.86" y2="98.4" stroke="#1a1a1a" stroke-width="0.9"/>
<line x1="461.12" y1="96" x2="461.12" y2="98.4" stroke="#1a1a1a" stroke-width="0.9"/>
<line x1="470.38" y1="96" x2="470.38" y2="98.4" stroke="#1a1a1a" stroke-width="0.9"/>
<line x1="479.64" y1="96" x2="479.64" y2="98.4" stroke="#1a1a1a" stroke-width="0.9"/>
<line x1="488.9" y1="96" x2="488.9" y2="98.4" stroke="#1a1a1a" stroke-width="0.9"/>
<line x1="498.16" y1="96" x2="498.16" y2="98.4" stroke="#1a1a1a" stroke-width="0.9"/>
<line x1="507.42" y1="96" x2="507.42" y2="98.4" stroke="#1a1a1a" stroke-width="0.9"/>
<text transform="translate(445.6,105.6) rotate(-45) scale(0.88,1)" font-size="6.7" text-anchor="end" fill="#2a2a2a" stroke="#2a2a2a" stroke-width="0.1">DFT Baseline</text>
<text transform="translate(454.86,105.6) rotate(-45) scale(0.88,1)" font-size="6.7" text-anchor="end" fill="#2a2a2a" stroke="#2a2a2a" stroke-width="0.1">Ext Scr</text>
<text transform="translate(464.12,105.6) rotate(-45) scale(0.88,1)" font-size="6.7" text-anchor="end" fill="#2a2a2a" stroke="#2a2a2a" stroke-width="0.1">1</text>
<text transform="translate(473.38,105.6) rotate(-45) scale(0.88,1)" font-size="6.7" text-anchor="end" fill="#2a2a2a" stroke="#2a2a2a" stroke-width="0.1">2</text>
<text transform="translate(482.64,105.6) rotate(-45) scale(0.88,1)" font-size="6.7" text-anchor="end" fill="#2a2a2a" stroke="#2a2a2a" stroke-width="0.1">3</text>
<text transform="translate(491.9,105.6) rotate(-45) scale(0.88,1)" font-size="6.7" text-anchor="end" fill="#2a2a2a" stroke="#2a2a2a" stroke-width="0.1">4</text>
<text transform="translate(501.16,105.6) rotate(-45) scale(0.88,1)" font-size="6.7" text-anchor="end" fill="#2a2a2a" stroke="#2a2a2a" stroke-width="0.1">5</text>
<text transform="translate(510.42,105.6) rotate(-45) scale(0.88,1)" font-size="6.7" text-anchor="end" fill="#2a2a2a" stroke="#2a2a2a" stroke-width="0.1">6</text>
<polyline points="461.2,110.6 461.2,115.2 507.5,115.2 507.5,110.6" fill="none" stroke="#333" stroke-width="0.9" stroke-linejoin="round"/>
<text transform="translate(484.2,124.8) scale(0.6,1)" font-size="8.6" text-anchor="middle" font-weight="bold" fill="#222" stroke="#222" stroke-width="0.15">Year</text>
<text transform="translate(6.6,149.5)" font-size="10.6" font-weight="bold" fill="#111" stroke="#111" stroke-width="0.6">D</text>
<rect x="38" y="200.9" width="91" height="24.7" fill="#dfdee4"/>
<line x1="45.7" y1="198" x2="45.7" y2="216" stroke="#d12b7f" stroke-width="0.85"/>
<line x1="44.4" y1="198" x2="47" y2="198" stroke="#d12b7f" stroke-width="0.85"/>
<line x1="44.4" y1="216" x2="47" y2="216" stroke="#d12b7f" stroke-width="0.85"/>
<line x1="56.65" y1="196" x2="56.65" y2="215" stroke="#d12b7f" stroke-width="0.85"/>
<line x1="55.35" y1="196" x2="57.95" y2="196" stroke="#d12b7f" stroke-width="0.85"/>
<line x1="55.35" y1="215" x2="57.95" y2="215" stroke="#d12b7f" stroke-width="0.85"/>
<line x1="67.6" y1="205" x2="67.6" y2="214" stroke="#d12b7f" stroke-width="0.85"/>
<line x1="66.3" y1="205" x2="68.9" y2="205" stroke="#d12b7f" stroke-width="0.85"/>
<line x1="66.3" y1="214" x2="68.9" y2="214" stroke="#d12b7f" stroke-width="0.85"/>
<line x1="78.55" y1="210" x2="78.55" y2="219" stroke="#d12b7f" stroke-width="0.85"/>
<line x1="77.25" y1="210" x2="79.85" y2="210" stroke="#d12b7f" stroke-width="0.85"/>
<line x1="77.25" y1="219" x2="79.85" y2="219" stroke="#d12b7f" stroke-width="0.85"/>
<line x1="89.5" y1="216" x2="89.5" y2="224" stroke="#d12b7f" stroke-width="0.85"/>
<line x1="88.2" y1="216" x2="90.8" y2="216" stroke="#d12b7f" stroke-width="0.85"/>
<line x1="88.2" y1="224" x2="90.8" y2="224" stroke="#d12b7f" stroke-width="0.85"/>
<line x1="100.45" y1="213" x2="100.45" y2="220" stroke="#d12b7f" stroke-width="0.85"/>
<line x1="99.15" y1="213" x2="101.75" y2="213" stroke="#d12b7f" stroke-width="0.85"/>
<line x1="99.15" y1="220" x2="101.75" y2="220" stroke="#d12b7f" stroke-width="0.85"/>
<line x1="111.4" y1="217" x2="111.4" y2="222" stroke="#d12b7f" stroke-width="0.85"/>
<line x1="110.1" y1="217" x2="112.7" y2="217" stroke="#d12b7f" stroke-width="0.85"/>
<line x1="110.1" y1="222" x2="112.7" y2="222" stroke="#d12b7f" stroke-width="0.85"/>
<line x1="122.35" y1="213" x2="122.35" y2="222.3" stroke="#d12b7f" stroke-width="0.85"/>
<line x1="121.05" y1="213" x2="123.65" y2="213" stroke="#d12b7f" stroke-width="0.85"/>
<line x1="121.05" y1="222.3" x2="123.65" y2="222.3" stroke="#d12b7f" stroke-width="0.85"/>
<polyline points="45.7,222.9 56.65,224.6 67.6,221.7 78.55,224.9 89.5,226 100.45,224 111.4,224.6 122.35,225.2" fill="none" stroke="#3c1f5e" stroke-width="0.75" stroke-linejoin="round"/>
<circle cx="45.7" cy="222.9" r="1.15" fill="#3c1f5e"/>
<circle cx="56.65" cy="224.6" r="1.15" fill="#3c1f5e"/>
<circle cx="67.6" cy="221.7" r="1.15" fill="#3c1f5e"/>
<circle cx="78.55" cy="224.9" r="1.15" fill="#3c1f5e"/>
<circle cx="89.5" cy="226" r="1.15" fill="#3c1f5e"/>
<circle cx="100.45" cy="224" r="1.15" fill="#3c1f5e"/>
<circle cx="111.4" cy="224.6" r="1.15" fill="#3c1f5e"/>
<circle cx="122.35" cy="225.2" r="1.15" fill="#3c1f5e"/>
<polyline points="45.7,222.5 56.65,223 67.6,222 78.55,221.1 89.5,225 100.45,218 111.4,220 122.35,220" fill="none" stroke="#eea544" stroke-width="0.75" stroke-linejoin="round"/>
<circle cx="45.7" cy="222.5" r="1.15" fill="#eea544"/>
<circle cx="56.65" cy="223" r="1.15" fill="#eea544"/>
<circle cx="67.6" cy="222" r="1.15" fill="#eea544"/>
<circle cx="78.55" cy="221.1" r="1.15" fill="#eea544"/>
<circle cx="89.5" cy="225" r="1.15" fill="#eea544"/>
<circle cx="100.45" cy="218" r="1.15" fill="#eea544"/>
<circle cx="111.4" cy="220" r="1.15" fill="#eea544"/>
<circle cx="122.35" cy="220" r="1.15" fill="#eea544"/>
<polyline points="45.7,204.7 56.65,204.7 67.6,207.3 78.55,224.6 89.5,226.3 100.45,217.1 111.4,221.1 122.35,225.2" fill="none" stroke="#c8304f" stroke-width="0.75" stroke-linejoin="round"/>
<circle cx="45.7" cy="204.7" r="1.15" fill="#c8304f"/>
<circle cx="56.65" cy="204.7" r="1.15" fill="#c8304f"/>
<circle cx="67.6" cy="207.3" r="1.15" fill="#c8304f"/>
<circle cx="78.55" cy="224.6" r="1.15" fill="#c8304f"/>
<circle cx="89.5" cy="226.3" r="1.15" fill="#c8304f"/>
<circle cx="100.45" cy="217.1" r="1.15" fill="#c8304f"/>
<circle cx="111.4" cy="221.1" r="1.15" fill="#c8304f"/>
<circle cx="122.35" cy="225.2" r="1.15" fill="#c8304f"/>
<polyline points="56.65,196 67.6,199.5 78.55,201 89.5,213.6 100.45,212.5 111.4,219 122.35,220" fill="none" stroke="#40a6cf" stroke-width="0.75" stroke-linejoin="round"/>
<circle cx="56.65" cy="196" r="1.15" fill="#40a6cf"/>
<circle cx="67.6" cy="199.5" r="1.15" fill="#40a6cf"/>
<circle cx="78.55" cy="201" r="1.15" fill="#40a6cf"/>
<circle cx="89.5" cy="213.6" r="1.15" fill="#40a6cf"/>
<circle cx="100.45" cy="212.5" r="1.15" fill="#40a6cf"/>
<circle cx="111.4" cy="219" r="1.15" fill="#40a6cf"/>
<circle cx="122.35" cy="220" r="1.15" fill="#40a6cf"/>
<polyline points="45.7,207 56.65,205 67.6,209 78.55,214.8 89.5,220.2 100.45,216 111.4,219.5 122.35,217.7" fill="none" stroke="#d12b7f" stroke-width="0.75" stroke-linejoin="round"/>
<circle cx="45.7" cy="207" r="1.15" fill="#d12b7f"/>
<circle cx="56.65" cy="205" r="1.15" fill="#d12b7f"/>
<circle cx="67.6" cy="209" r="1.15" fill="#d12b7f"/>
<circle cx="78.55" cy="214.8" r="1.15" fill="#d12b7f"/>
<circle cx="89.5" cy="220.2" r="1.15" fill="#d12b7f"/>
<circle cx="100.45" cy="216" r="1.15" fill="#d12b7f"/>
<circle cx="111.4" cy="219.5" r="1.15" fill="#d12b7f"/>
<circle cx="122.35" cy="217.7" r="1.15" fill="#d12b7f"/>
<polyline points="45.7,189.6 56.65,190.2 67.6,194.5 78.55,212 89.5,220 100.45,213 122.35,200.1" fill="none" stroke="#4fae4f" stroke-width="0.75" stroke-linejoin="round"/>
<circle cx="45.7" cy="189.6" r="1.15" fill="#4fae4f"/>
<circle cx="56.65" cy="190.2" r="1.15" fill="#4fae4f"/>
<circle cx="67.6" cy="194.5" r="1.15" fill="#4fae4f"/>
<circle cx="78.55" cy="212" r="1.15" fill="#4fae4f"/>
<circle cx="89.5" cy="220" r="1.15" fill="#4fae4f"/>
<circle cx="100.45" cy="213" r="1.15" fill="#4fae4f"/>
<circle cx="122.35" cy="200.1" r="1.15" fill="#4fae4f"/>
<polyline points="45.7,199.8 56.65,182.3 67.6,199.4 78.55,204.8 89.5,204.1 100.45,205.3" fill="none" stroke="#25477a" stroke-width="0.75" stroke-linejoin="round"/>
<circle cx="45.7" cy="199.8" r="1.15" fill="#25477a"/>
<circle cx="56.65" cy="182.3" r="1.15" fill="#25477a"/>
<circle cx="67.6" cy="199.4" r="1.15" fill="#25477a"/>
<circle cx="78.55" cy="204.8" r="1.15" fill="#25477a"/>
<circle cx="89.5" cy="204.1" r="1.15" fill="#25477a"/>
<circle cx="100.45" cy="205.3" r="1.15" fill="#25477a"/>
<line x1="38" y1="176.4" x2="38" y2="239.8" stroke="#1a1a1a" stroke-width="1.25"/>
<line x1="35" y1="178" x2="38" y2="178" stroke="#1a1a1a" stroke-width="0.9"/>
<text transform="translate(32.7,180.5) scale(0.88,1)" font-size="6.7" text-anchor="end" fill="#2a2a2a" stroke="#2a2a2a" stroke-width="0.1">2500</text>
<line x1="35" y1="190.36" x2="38" y2="190.36" stroke="#1a1a1a" stroke-width="0.9"/>
<text transform="translate(32.7,192.86) scale(0.88,1)" font-size="6.7" text-anchor="end" fill="#2a2a2a" stroke="#2a2a2a" stroke-width="0.1">2000</text>
<line x1="35" y1="202.72" x2="38" y2="202.72" stroke="#1a1a1a" stroke-width="0.9"/>
<text transform="translate(32.7,205.22) scale(0.88,1)" font-size="6.7" text-anchor="end" fill="#2a2a2a" stroke="#2a2a2a" stroke-width="0.1">1500</text>
<line x1="35" y1="215.08" x2="38" y2="215.08" stroke="#1a1a1a" stroke-width="0.9"/>
<text transform="translate(32.7,217.58) scale(0.88,1)" font-size="6.7" text-anchor="end" fill="#2a2a2a" stroke="#2a2a2a" stroke-width="0.1">1000</text>
<line x1="35" y1="227.44" x2="38" y2="227.44" stroke="#1a1a1a" stroke-width="0.9"/>
<text transform="translate(32.7,229.94) scale(0.88,1)" font-size="6.7" text-anchor="end" fill="#2a2a2a" stroke="#2a2a2a" stroke-width="0.1">500</text>
<line x1="35" y1="239.8" x2="38" y2="239.8" stroke="#1a1a1a" stroke-width="0.9"/>
<text transform="translate(32.7,242.3) scale(0.88,1)" font-size="6.7" text-anchor="end" fill="#2a2a2a" stroke="#2a2a2a" stroke-width="0.1">0</text>
<text transform="translate(10.5,208.8) rotate(-90) scale(0.85,1)" font-size="6.9" text-anchor="middle" fill="#222" dominant-baseline="central" stroke="#222" stroke-width="0.25">IgG, mg/dL</text>
<line x1="37.5" y1="239.8" x2="129" y2="239.8" stroke="#1a1a1a" stroke-width="1.25"/>
<line x1="45.7" y1="239.8" x2="45.7" y2="242.2" stroke="#1a1a1a" stroke-width="0.9"/>
<line x1="56.65" y1="239.8" x2="56.65" y2="242.2" stroke="#1a1a1a" stroke-width="0.9"/>
<line x1="67.6" y1="239.8" x2="67.6" y2="242.2" stroke="#1a1a1a" stroke-width="0.9"/>
<line x1="78.55" y1="239.8" x2="78.55" y2="242.2" stroke="#1a1a1a" stroke-width="0.9"/>
<line x1="89.5" y1="239.8" x2="89.5" y2="242.2" stroke="#1a1a1a" stroke-width="0.9"/>
<line x1="100.45" y1="239.8" x2="100.45" y2="242.2" stroke="#1a1a1a" stroke-width="0.9"/>
<line x1="111.4" y1="239.8" x2="111.4" y2="242.2" stroke="#1a1a1a" stroke-width="0.9"/>
<line x1="122.35" y1="239.8" x2="122.35" y2="242.2" stroke="#1a1a1a" stroke-width="0.9"/>
<text transform="translate(48.7,249.4) rotate(-45) scale(0.88,1)" font-size="6.7" text-anchor="end" fill="#2a2a2a" stroke="#2a2a2a" stroke-width="0.1">DFT Baseline</text>
<text transform="translate(59.65,249.4) rotate(-45) scale(0.88,1)" font-size="6.7" text-anchor="end" fill="#2a2a2a" stroke="#2a2a2a" stroke-width="0.1">Ext Scr</text>
<text transform="translate(70.6,249.4) rotate(-45) scale(0.88,1)" font-size="6.7" text-anchor="end" fill="#2a2a2a" stroke="#2a2a2a" stroke-width="0.1">1</text>
<text transform="translate(81.55,249.4) rotate(-45) scale(0.88,1)" font-size="6.7" text-anchor="end" fill="#2a2a2a" stroke="#2a2a2a" stroke-width="0.1">2</text>
<text transform="translate(92.5,249.4) rotate(-45) scale(0.88,1)" font-size="6.7" text-anchor="end" fill="#2a2a2a" stroke="#2a2a2a" stroke-width="0.1">3</text>
<text transform="translate(103.45,249.4) rotate(-45) scale(0.88,1)" font-size="6.7" text-anchor="end" fill="#2a2a2a" stroke="#2a2a2a" stroke-width="0.1">4</text>
<text transform="translate(114.4,249.4) rotate(-45) scale(0.88,1)" font-size="6.7" text-anchor="end" fill="#2a2a2a" stroke="#2a2a2a" stroke-width="0.1">5</text>
<text transform="translate(125.35,249.4) rotate(-45) scale(0.88,1)" font-size="6.7" text-anchor="end" fill="#2a2a2a" stroke="#2a2a2a" stroke-width="0.1">6</text>
<polyline points="67.7,254.5 67.7,258.9 122.4,258.9 122.4,254.5" fill="none" stroke="#333" stroke-width="0.9" stroke-linejoin="round"/>
<text transform="translate(94.7,268.6) scale(0.6,1)" font-size="8.6" text-anchor="middle" font-weight="bold" fill="#222" stroke="#222" stroke-width="0.15">Year</text>
<line x1="135.6" y1="190.6" x2="142.4" y2="190.6" stroke="#c8304f" stroke-width="0.9"/>
<circle cx="139" cy="190.6" r="1.2" fill="#c8304f"/>
<text transform="translate(145.6,192.9) scale(0.88,1)" font-size="6.6" fill="#222" stroke="#222" stroke-width="0.05">Patient 1</text>
<line x1="175.2" y1="190.6" x2="182" y2="190.6" stroke="#4fae4f" stroke-width="0.9"/>
<circle cx="178.6" cy="190.6" r="1.2" fill="#4fae4f"/>
<text transform="translate(185.2,192.9) scale(0.88,1)" font-size="6.6" fill="#222" stroke="#222" stroke-width="0.05">Patient 2</text>
<line x1="135.6" y1="200.4" x2="142.4" y2="200.4" stroke="#25477a" stroke-width="0.9"/>
<circle cx="139" cy="200.4" r="1.2" fill="#25477a"/>
<text transform="translate(145.6,202.7) scale(0.88,1)" font-size="6.6" fill="#222" stroke="#222" stroke-width="0.05">Patient 3</text>
<line x1="175.2" y1="200.4" x2="182" y2="200.4" stroke="#3c1f5e" stroke-width="0.9"/>
<circle cx="178.6" cy="200.4" r="1.2" fill="#3c1f5e"/>
<text transform="translate(185.2,202.7) scale(0.88,1)" font-size="6.6" fill="#222" stroke="#222" stroke-width="0.05">Patient 4</text>
<line x1="135.6" y1="210.1" x2="142.4" y2="210.1" stroke="#eea544" stroke-width="0.9"/>
<circle cx="139" cy="210.1" r="1.2" fill="#eea544"/>
<text transform="translate(145.6,212.4) scale(0.88,1)" font-size="6.6" fill="#222" stroke="#222" stroke-width="0.05">Patient 5</text>
<line x1="175.2" y1="210.1" x2="182" y2="210.1" stroke="#40a6cf" stroke-width="0.9"/>
<circle cx="178.6" cy="210.1" r="1.2" fill="#40a6cf"/>
<text transform="translate(185.2,212.4) scale(0.88,1)" font-size="6.6" fill="#222" stroke="#222" stroke-width="0.05">Patient 6</text>
<line x1="135.6" y1="220" x2="142.4" y2="220" stroke="#d12b7f" stroke-width="0.9"/>
<circle cx="139" cy="220" r="1.2" fill="#d12b7f"/>
<text transform="translate(145.6,222.3) scale(0.88,1)" font-size="6.6" fill="#222" stroke="#222" stroke-width="0.05">Mean</text>
<text transform="translate(216.8,149.9)" font-size="10.6" font-weight="bold" fill="#111" stroke="#111" stroke-width="0.6">E</text>
<line x1="256.32" y1="172" x2="256.32" y2="240.2" stroke="#9c9c9c" stroke-width="0.9"/>
<text transform="translate(256.72,171.2) rotate(-45) scale(0.8,1)" font-size="7" fill="#2a2a2a" stroke="#2a2a2a" stroke-width="0.1">Year 1</text>
<line x1="271.14" y1="172" x2="271.14" y2="240.2" stroke="#9c9c9c" stroke-width="0.9"/>
<text transform="translate(271.54,171.2) rotate(-45) scale(0.8,1)" font-size="7" fill="#2a2a2a" stroke="#2a2a2a" stroke-width="0.1">Year 2</text>
<line x1="285.96" y1="172" x2="285.96" y2="240.2" stroke="#9c9c9c" stroke-width="0.9"/>
<text transform="translate(286.36,171.2) rotate(-45) scale(0.8,1)" font-size="7" fill="#2a2a2a" stroke="#2a2a2a" stroke-width="0.1">Year 3</text>
<line x1="300.78" y1="172" x2="300.78" y2="240.2" stroke="#9c9c9c" stroke-width="0.9"/>
<text transform="translate(301.18,171.2) rotate(-45) scale(0.8,1)" font-size="7" fill="#2a2a2a" stroke="#2a2a2a" stroke-width="0.1">Year 4</text>
<line x1="315.6" y1="172" x2="315.6" y2="240.2" stroke="#9c9c9c" stroke-width="0.9"/>
<text transform="translate(316,171.2) rotate(-45) scale(0.8,1)" font-size="7" fill="#2a2a2a" stroke="#2a2a2a" stroke-width="0.1">Year 5</text>
<line x1="330.41" y1="172" x2="330.41" y2="240.2" stroke="#9c9c9c" stroke-width="0.9"/>
<text transform="translate(330.81,171.2) rotate(-45) scale(0.8,1)" font-size="7" fill="#2a2a2a" stroke="#2a2a2a" stroke-width="0.1">Year 6</text>
<polyline points="241.5,180.36 244.5,180.36 244.5,192.6 266.67,192.6 266.67,240.2 330.62,240.2" fill="none" stroke="#c83c5c" stroke-width="1.2" stroke-linejoin="round" stroke-linejoin="miter"/>
<line x1="241.3" y1="169.5" x2="241.3" y2="240.2" stroke="#1a1a1a" stroke-width="1.25"/>
<line x1="238.3" y1="172.2" x2="241.3" y2="172.2" stroke="#1a1a1a" stroke-width="0.9"/>
<text transform="translate(236,174.7) scale(0.88,1)" font-size="6.7" text-anchor="end" fill="#2a2a2a" stroke="#2a2a2a" stroke-width="0.1">50</text>
<line x1="238.3" y1="185.8" x2="241.3" y2="185.8" stroke="#1a1a1a" stroke-width="0.9"/>
<text transform="translate(236,188.3) scale(0.88,1)" font-size="6.7" text-anchor="end" fill="#2a2a2a" stroke="#2a2a2a" stroke-width="0.1">40</text>
<line x1="238.3" y1="199.4" x2="241.3" y2="199.4" stroke="#1a1a1a" stroke-width="0.9"/>
<text transform="translate(236,201.9) scale(0.88,1)" font-size="6.7" text-anchor="end" fill="#2a2a2a" stroke="#2a2a2a" stroke-width="0.1">30</text>
<line x1="238.3" y1="213" x2="241.3" y2="213" stroke="#1a1a1a" stroke-width="0.9"/>
<text transform="translate(236,215.5) scale(0.88,1)" font-size="6.7" text-anchor="end" fill="#2a2a2a" stroke="#2a2a2a" stroke-width="0.1">20</text>
<line x1="238.3" y1="226.6" x2="241.3" y2="226.6" stroke="#1a1a1a" stroke-width="0.9"/>
<text transform="translate(236,229.1) scale(0.88,1)" font-size="6.7" text-anchor="end" fill="#2a2a2a" stroke="#2a2a2a" stroke-width="0.1">10</text>
<line x1="238.3" y1="240.2" x2="241.3" y2="240.2" stroke="#1a1a1a" stroke-width="0.9"/>
<text transform="translate(236,242.7) scale(0.88,1)" font-size="6.7" text-anchor="end" fill="#2a2a2a" stroke="#2a2a2a" stroke-width="0.1">0</text>
<line x1="240.8" y1="240.2" x2="344.8" y2="240.2" stroke="#1a1a1a" stroke-width="1.25"/>
<line x1="241.5" y1="240.2" x2="241.5" y2="243" stroke="#1a1a1a" stroke-width="0.9"/>
<text transform="translate(244.1,249.8) rotate(-45) scale(0.88,1)" font-size="6.7" text-anchor="end" fill="#2a2a2a" stroke="#2a2a2a" stroke-width="0.1">0</text>
<line x1="251.65" y1="240.2" x2="251.65" y2="241.8" stroke="#1a1a1a" stroke-width="0.9"/>
<line x1="261.8" y1="240.2" x2="261.8" y2="243" stroke="#1a1a1a" stroke-width="0.9"/>
<text transform="translate(264.4,249.8) rotate(-45) scale(0.88,1)" font-size="6.7" text-anchor="end" fill="#2a2a2a" stroke="#2a2a2a" stroke-width="0.1">500</text>
<line x1="271.95" y1="240.2" x2="271.95" y2="241.8" stroke="#1a1a1a" stroke-width="0.9"/>
<line x1="282.1" y1="240.2" x2="282.1" y2="243" stroke="#1a1a1a" stroke-width="0.9"/>
<text transform="translate(284.7,249.8) rotate(-45) scale(0.88,1)" font-size="6.7" text-anchor="end" fill="#2a2a2a" stroke="#2a2a2a" stroke-width="0.1">1000</text>
<line x1="292.25" y1="240.2" x2="292.25" y2="241.8" stroke="#1a1a1a" stroke-width="0.9"/>
<line x1="302.4" y1="240.2" x2="302.4" y2="243" stroke="#1a1a1a" stroke-width="0.9"/>
<text transform="translate(305,249.8) rotate(-45) scale(0.88,1)" font-size="6.7" text-anchor="end" fill="#2a2a2a" stroke="#2a2a2a" stroke-width="0.1">1500</text>
<line x1="312.55" y1="240.2" x2="312.55" y2="241.8" stroke="#1a1a1a" stroke-width="0.9"/>
<line x1="322.7" y1="240.2" x2="322.7" y2="243" stroke="#1a1a1a" stroke-width="0.9"/>
<text transform="translate(325.3,249.8) rotate(-45) scale(0.88,1)" font-size="6.7" text-anchor="end" fill="#2a2a2a" stroke="#2a2a2a" stroke-width="0.1">2000</text>
<line x1="332.85" y1="240.2" x2="332.85" y2="241.8" stroke="#1a1a1a" stroke-width="0.9"/>
<line x1="343" y1="240.2" x2="343" y2="243" stroke="#1a1a1a" stroke-width="0.9"/>
<text transform="translate(345.6,249.8) rotate(-45) scale(0.88,1)" font-size="6.7" text-anchor="end" fill="#2a2a2a" stroke="#2a2a2a" stroke-width="0.1">2500</text>
<text transform="translate(295.8,268.3) scale(0.6,1)" font-size="8.6" text-anchor="middle" font-weight="bold" fill="#222" stroke="#222" stroke-width="0.15">Days</text>
<text transform="translate(221.2,204.5) rotate(-90) scale(0.82,1)" font-size="6.9" text-anchor="middle" fill="#222" dominant-baseline="central" stroke="#222" stroke-width="0.25">Dose (g/month)</text>
<text transform="translate(355.5,149.9)" font-size="10.6" font-weight="bold" fill="#111" stroke="#111" stroke-width="0.6">F</text>
<line x1="395.71" y1="171.9" x2="395.71" y2="240" stroke="#9c9c9c" stroke-width="0.9"/>
<text transform="translate(396.11,171.1) rotate(-45) scale(0.8,1)" font-size="7" fill="#2a2a2a" stroke="#2a2a2a" stroke-width="0.1">Year 1</text>
<line x1="410.42" y1="171.9" x2="410.42" y2="240" stroke="#9c9c9c" stroke-width="0.9"/>
<text transform="translate(410.82,171.1) rotate(-45) scale(0.8,1)" font-size="7" fill="#2a2a2a" stroke="#2a2a2a" stroke-width="0.1">Year 2</text>
<line x1="425.13" y1="171.9" x2="425.13" y2="240" stroke="#9c9c9c" stroke-width="0.9"/>
<text transform="translate(425.53,171.1) rotate(-45) scale(0.8,1)" font-size="7" fill="#2a2a2a" stroke="#2a2a2a" stroke-width="0.1">Year 3</text>
<line x1="439.84" y1="171.9" x2="439.84" y2="240" stroke="#9c9c9c" stroke-width="0.9"/>
<text transform="translate(440.24,171.1) rotate(-45) scale(0.8,1)" font-size="7" fill="#2a2a2a" stroke="#2a2a2a" stroke-width="0.1">Year 4</text>
<line x1="454.55" y1="171.9" x2="454.55" y2="240" stroke="#9c9c9c" stroke-width="0.9"/>
<text transform="translate(454.95,171.1) rotate(-45) scale(0.8,1)" font-size="7" fill="#2a2a2a" stroke="#2a2a2a" stroke-width="0.1">Year 5</text>
<line x1="469.26" y1="171.9" x2="469.26" y2="240" stroke="#9c9c9c" stroke-width="0.9"/>
<text transform="translate(469.66,171.1) rotate(-45) scale(0.8,1)" font-size="7" fill="#2a2a2a" stroke="#2a2a2a" stroke-width="0.1">Year 6</text>
<polyline points="381,185.11 385.51,185.11 385.51,189.35 390.51,189.35 390.51,197.82 394.5,197.82 394.5,214.77 425.01,214.77 425.01,210.54 467.81,210.54 467.81,214.77 471.8,214.77" fill="none" stroke="#4fae4f" stroke-width="1" stroke-linejoin="round" stroke-linejoin="miter"/>
<line x1="380.5" y1="169.3" x2="380.5" y2="240" stroke="#1a1a1a" stroke-width="1.25"/>
<line x1="377.5" y1="172.4" x2="380.5" y2="172.4" stroke="#1a1a1a" stroke-width="0.9"/>
<text transform="translate(375.2,174.9) scale(0.88,1)" font-size="6.7" text-anchor="end" fill="#2a2a2a" stroke="#2a2a2a" stroke-width="0.1">80</text>
<line x1="377.5" y1="189.35" x2="380.5" y2="189.35" stroke="#1a1a1a" stroke-width="0.9"/>
<text transform="translate(375.2,191.85) scale(0.88,1)" font-size="6.7" text-anchor="end" fill="#2a2a2a" stroke="#2a2a2a" stroke-width="0.1">60</text>
<line x1="377.5" y1="206.3" x2="380.5" y2="206.3" stroke="#1a1a1a" stroke-width="0.9"/>
<text transform="translate(375.2,208.8) scale(0.88,1)" font-size="6.7" text-anchor="end" fill="#2a2a2a" stroke="#2a2a2a" stroke-width="0.1">40</text>
<line x1="377.5" y1="223.25" x2="380.5" y2="223.25" stroke="#1a1a1a" stroke-width="0.9"/>
<text transform="translate(375.2,225.75) scale(0.88,1)" font-size="6.7" text-anchor="end" fill="#2a2a2a" stroke="#2a2a2a" stroke-width="0.1">20</text>
<line x1="377.5" y1="240.2" x2="380.5" y2="240.2" stroke="#1a1a1a" stroke-width="0.9"/>
<text transform="translate(375.2,242.7) scale(0.88,1)" font-size="6.7" text-anchor="end" fill="#2a2a2a" stroke="#2a2a2a" stroke-width="0.1">0</text>
<line x1="380" y1="240" x2="485.4" y2="240" stroke="#1a1a1a" stroke-width="1.25"/>
<line x1="381" y1="240" x2="381" y2="242.8" stroke="#1a1a1a" stroke-width="0.9"/>
<text transform="translate(383.6,249.6) rotate(-45) scale(0.88,1)" font-size="6.7" text-anchor="end" fill="#2a2a2a" stroke="#2a2a2a" stroke-width="0.1">0</text>
<line x1="391.07" y1="240" x2="391.07" y2="241.6" stroke="#1a1a1a" stroke-width="0.9"/>
<line x1="401.15" y1="240" x2="401.15" y2="242.8" stroke="#1a1a1a" stroke-width="0.9"/>
<text transform="translate(403.75,249.6) rotate(-45) scale(0.88,1)" font-size="6.7" text-anchor="end" fill="#2a2a2a" stroke="#2a2a2a" stroke-width="0.1">500</text>
<line x1="411.23" y1="240" x2="411.23" y2="241.6" stroke="#1a1a1a" stroke-width="0.9"/>
<line x1="421.3" y1="240" x2="421.3" y2="242.8" stroke="#1a1a1a" stroke-width="0.9"/>
<text transform="translate(423.9,249.6) rotate(-45) scale(0.88,1)" font-size="6.7" text-anchor="end" fill="#2a2a2a" stroke="#2a2a2a" stroke-width="0.1">1000</text>
<line x1="431.38" y1="240" x2="431.38" y2="241.6" stroke="#1a1a1a" stroke-width="0.9"/>
<line x1="441.45" y1="240" x2="441.45" y2="242.8" stroke="#1a1a1a" stroke-width="0.9"/>
<text transform="translate(444.05,249.6) rotate(-45) scale(0.88,1)" font-size="6.7" text-anchor="end" fill="#2a2a2a" stroke="#2a2a2a" stroke-width="0.1">1500</text>
<line x1="451.52" y1="240" x2="451.52" y2="241.6" stroke="#1a1a1a" stroke-width="0.9"/>
<line x1="461.6" y1="240" x2="461.6" y2="242.8" stroke="#1a1a1a" stroke-width="0.9"/>
<text transform="translate(464.2,249.6) rotate(-45) scale(0.88,1)" font-size="6.7" text-anchor="end" fill="#2a2a2a" stroke="#2a2a2a" stroke-width="0.1">2000</text>
<line x1="471.68" y1="240" x2="471.68" y2="241.6" stroke="#1a1a1a" stroke-width="0.9"/>
<line x1="481.75" y1="240" x2="481.75" y2="242.8" stroke="#1a1a1a" stroke-width="0.9"/>
<text transform="translate(484.35,249.6) rotate(-45) scale(0.88,1)" font-size="6.7" text-anchor="end" fill="#2a2a2a" stroke="#2a2a2a" stroke-width="0.1">2500</text>
<text transform="translate(433.6,268.3) scale(0.6,1)" font-size="8.6" text-anchor="middle" font-weight="bold" fill="#222" stroke="#222" stroke-width="0.15">Days</text>
<text transform="translate(359.4,204.8) rotate(-90) scale(0.82,1)" font-size="6.9" text-anchor="middle" fill="#222" dominant-baseline="central" stroke="#222" stroke-width="0.25">Dose (g/month)</text>
<text transform="translate(13.7,294.5)" font-size="10.6" font-weight="bold" fill="#111" stroke="#111" stroke-width="0.6">G</text>
<line x1="53.17" y1="318.2" x2="53.17" y2="386.5" stroke="#9c9c9c" stroke-width="0.9"/>
<text transform="translate(53.57,317.4) rotate(-45) scale(0.8,1)" font-size="7" fill="#2a2a2a" stroke="#2a2a2a" stroke-width="0.1">Year 1</text>
<line x1="67.85" y1="318.2" x2="67.85" y2="386.5" stroke="#9c9c9c" stroke-width="0.9"/>
<text transform="translate(68.25,317.4) rotate(-45) scale(0.8,1)" font-size="7" fill="#2a2a2a" stroke="#2a2a2a" stroke-width="0.1">Year 2</text>
<line x1="82.52" y1="318.2" x2="82.52" y2="386.5" stroke="#9c9c9c" stroke-width="0.9"/>
<text transform="translate(82.92,317.4) rotate(-45) scale(0.8,1)" font-size="7" fill="#2a2a2a" stroke="#2a2a2a" stroke-width="0.1">Year 3</text>
<line x1="97.19" y1="318.2" x2="97.19" y2="386.5" stroke="#9c9c9c" stroke-width="0.9"/>
<text transform="translate(97.59,317.4) rotate(-45) scale(0.8,1)" font-size="7" fill="#2a2a2a" stroke="#2a2a2a" stroke-width="0.1">Year 4</text>
<line x1="111.86" y1="318.2" x2="111.86" y2="386.5" stroke="#9c9c9c" stroke-width="0.9"/>
<text transform="translate(112.27,317.4) rotate(-45) scale(0.8,1)" font-size="7" fill="#2a2a2a" stroke="#2a2a2a" stroke-width="0.1">Year 5</text>
<line x1="126.54" y1="318.2" x2="126.54" y2="386.5" stroke="#9c9c9c" stroke-width="0.9"/>
<text transform="translate(126.94,317.4) rotate(-45) scale(0.8,1)" font-size="7" fill="#2a2a2a" stroke="#2a2a2a" stroke-width="0.1">Year 6</text>
<polyline points="38.5,337.47 109.81,337.47" fill="none" stroke="#3d5a80" stroke-width="1" stroke-linejoin="round" stroke-linejoin="miter"/>
<line x1="39" y1="313.8" x2="39" y2="386.5" stroke="#1a1a1a" stroke-width="1.25"/>
<line x1="36" y1="316.5" x2="39" y2="316.5" stroke="#1a1a1a" stroke-width="0.9"/>
<text transform="translate(33.7,319) scale(0.88,1)" font-size="6.7" text-anchor="end" fill="#2a2a2a" stroke="#2a2a2a" stroke-width="0.1">50</text>
<line x1="36" y1="330.48" x2="39" y2="330.48" stroke="#1a1a1a" stroke-width="0.9"/>
<text transform="translate(33.7,332.98) scale(0.88,1)" font-size="6.7" text-anchor="end" fill="#2a2a2a" stroke="#2a2a2a" stroke-width="0.1">40</text>
<line x1="36" y1="344.46" x2="39" y2="344.46" stroke="#1a1a1a" stroke-width="0.9"/>
<text transform="translate(33.7,346.96) scale(0.88,1)" font-size="6.7" text-anchor="end" fill="#2a2a2a" stroke="#2a2a2a" stroke-width="0.1">30</text>
<line x1="36" y1="358.44" x2="39" y2="358.44" stroke="#1a1a1a" stroke-width="0.9"/>
<text transform="translate(33.7,360.94) scale(0.88,1)" font-size="6.7" text-anchor="end" fill="#2a2a2a" stroke="#2a2a2a" stroke-width="0.1">20</text>
<line x1="36" y1="372.42" x2="39" y2="372.42" stroke="#1a1a1a" stroke-width="0.9"/>
<text transform="translate(33.7,374.92) scale(0.88,1)" font-size="6.7" text-anchor="end" fill="#2a2a2a" stroke="#2a2a2a" stroke-width="0.1">10</text>
<line x1="36" y1="386.4" x2="39" y2="386.4" stroke="#1a1a1a" stroke-width="0.9"/>
<text transform="translate(33.7,388.9) scale(0.88,1)" font-size="6.7" text-anchor="end" fill="#2a2a2a" stroke="#2a2a2a" stroke-width="0.1">0</text>
<line x1="38.5" y1="386.5" x2="142" y2="386.5" stroke="#1a1a1a" stroke-width="1.25"/>
<line x1="38.5" y1="386.5" x2="38.5" y2="389.3" stroke="#1a1a1a" stroke-width="0.9"/>
<text transform="translate(41.1,396.1) rotate(-45) scale(0.88,1)" font-size="6.7" text-anchor="end" fill="#2a2a2a" stroke="#2a2a2a" stroke-width="0.1">0</text>
<line x1="48.55" y1="386.5" x2="48.55" y2="388.1" stroke="#1a1a1a" stroke-width="0.9"/>
<line x1="58.6" y1="386.5" x2="58.6" y2="389.3" stroke="#1a1a1a" stroke-width="0.9"/>
<text transform="translate(61.2,396.1) rotate(-45) scale(0.88,1)" font-size="6.7" text-anchor="end" fill="#2a2a2a" stroke="#2a2a2a" stroke-width="0.1">500</text>
<line x1="68.65" y1="386.5" x2="68.65" y2="388.1" stroke="#1a1a1a" stroke-width="0.9"/>
<line x1="78.7" y1="386.5" x2="78.7" y2="389.3" stroke="#1a1a1a" stroke-width="0.9"/>
<text transform="translate(81.3,396.1) rotate(-45) scale(0.88,1)" font-size="6.7" text-anchor="end" fill="#2a2a2a" stroke="#2a2a2a" stroke-width="0.1">1000</text>
<line x1="88.75" y1="386.5" x2="88.75" y2="388.1" stroke="#1a1a1a" stroke-width="0.9"/>
<line x1="98.8" y1="386.5" x2="98.8" y2="389.3" stroke="#1a1a1a" stroke-width="0.9"/>
<text transform="translate(101.4,396.1) rotate(-45) scale(0.88,1)" font-size="6.7" text-anchor="end" fill="#2a2a2a" stroke="#2a2a2a" stroke-width="0.1">1500</text>
<line x1="108.85" y1="386.5" x2="108.85" y2="388.1" stroke="#1a1a1a" stroke-width="0.9"/>
<line x1="118.9" y1="386.5" x2="118.9" y2="389.3" stroke="#1a1a1a" stroke-width="0.9"/>
<text transform="translate(121.5,396.1) rotate(-45) scale(0.88,1)" font-size="6.7" text-anchor="end" fill="#2a2a2a" stroke="#2a2a2a" stroke-width="0.1">2000</text>
<line x1="128.95" y1="386.5" x2="128.95" y2="388.1" stroke="#1a1a1a" stroke-width="0.9"/>
<line x1="139" y1="386.5" x2="139" y2="389.3" stroke="#1a1a1a" stroke-width="0.9"/>
<text transform="translate(141.6,396.1) rotate(-45) scale(0.88,1)" font-size="6.7" text-anchor="end" fill="#2a2a2a" stroke="#2a2a2a" stroke-width="0.1">2500</text>
<text transform="translate(90.5,415.2) scale(0.6,1)" font-size="8.6" text-anchor="middle" font-weight="bold" fill="#222" stroke="#222" stroke-width="0.15">Days</text>
<text transform="translate(17.4,351) rotate(-90) scale(0.82,1)" font-size="6.9" text-anchor="middle" fill="#222" dominant-baseline="central" stroke="#222" stroke-width="0.25">Dose (g/month)</text>
<text transform="translate(152,293.6)" font-size="10.6" font-weight="bold" fill="#111" stroke="#111" stroke-width="0.6">H</text>
<line x1="190.67" y1="318.4" x2="190.67" y2="386.2" stroke="#9c9c9c" stroke-width="0.9"/>
<text transform="translate(191.07,317.6) rotate(-45) scale(0.8,1)" font-size="7" fill="#2a2a2a" stroke="#2a2a2a" stroke-width="0.1">Year 1</text>
<line x1="204.54" y1="318.4" x2="204.54" y2="386.2" stroke="#9c9c9c" stroke-width="0.9"/>
<text transform="translate(204.94,317.6) rotate(-45) scale(0.8,1)" font-size="7" fill="#2a2a2a" stroke="#2a2a2a" stroke-width="0.1">Year 2</text>
<line x1="218.41" y1="318.4" x2="218.41" y2="386.2" stroke="#9c9c9c" stroke-width="0.9"/>
<text transform="translate(218.81,317.6) rotate(-45) scale(0.8,1)" font-size="7" fill="#2a2a2a" stroke="#2a2a2a" stroke-width="0.1">Year 3</text>
<line x1="232.28" y1="318.4" x2="232.28" y2="386.2" stroke="#9c9c9c" stroke-width="0.9"/>
<text transform="translate(232.68,317.6) rotate(-45) scale(0.8,1)" font-size="7" fill="#2a2a2a" stroke="#2a2a2a" stroke-width="0.1">Year 4</text>
<line x1="246.15" y1="318.4" x2="246.15" y2="386.2" stroke="#9c9c9c" stroke-width="0.9"/>
<text transform="translate(246.55,317.6) rotate(-45) scale(0.8,1)" font-size="7" fill="#2a2a2a" stroke="#2a2a2a" stroke-width="0.1">Year 5</text>
<line x1="260.02" y1="318.4" x2="260.02" y2="386.2" stroke="#9c9c9c" stroke-width="0.9"/>
<text transform="translate(260.42,317.6) rotate(-45) scale(0.8,1)" font-size="7" fill="#2a2a2a" stroke="#2a2a2a" stroke-width="0.1">Year 6</text>
<polyline points="176.5,334.85 260.1,334.85 260.1,352 261.5,352" fill="none" stroke="#eea544" stroke-width="1.1" stroke-linejoin="round" stroke-linejoin="miter"/>
<line x1="181.6" y1="334.85" x2="181.6" y2="352" stroke="#eea544" stroke-width="1.1"/>
<line x1="176" y1="315" x2="176" y2="386.2" stroke="#1a1a1a" stroke-width="1.25"/>
<line x1="173" y1="317.7" x2="176" y2="317.7" stroke="#1a1a1a" stroke-width="0.9"/>
<text transform="translate(170.7,320.2) scale(0.88,1)" font-size="6.7" text-anchor="end" fill="#2a2a2a" stroke="#2a2a2a" stroke-width="0.1">20</text>
<line x1="173" y1="334.85" x2="176" y2="334.85" stroke="#1a1a1a" stroke-width="0.9"/>
<text transform="translate(170.7,337.35) scale(0.88,1)" font-size="6.7" text-anchor="end" fill="#2a2a2a" stroke="#2a2a2a" stroke-width="0.1">15</text>
<line x1="173" y1="352" x2="176" y2="352" stroke="#1a1a1a" stroke-width="0.9"/>
<text transform="translate(170.7,354.5) scale(0.88,1)" font-size="6.7" text-anchor="end" fill="#2a2a2a" stroke="#2a2a2a" stroke-width="0.1">10</text>
<line x1="173" y1="369.15" x2="176" y2="369.15" stroke="#1a1a1a" stroke-width="0.9"/>
<text transform="translate(170.7,371.65) scale(0.88,1)" font-size="6.7" text-anchor="end" fill="#2a2a2a" stroke="#2a2a2a" stroke-width="0.1">5</text>
<line x1="173" y1="386.3" x2="176" y2="386.3" stroke="#1a1a1a" stroke-width="0.9"/>
<text transform="translate(170.7,388.8) scale(0.88,1)" font-size="6.7" text-anchor="end" fill="#2a2a2a" stroke="#2a2a2a" stroke-width="0.1">0</text>
<line x1="175.5" y1="386.2" x2="273.7" y2="386.2" stroke="#1a1a1a" stroke-width="1.25"/>
<line x1="176.8" y1="386.2" x2="176.8" y2="389" stroke="#1a1a1a" stroke-width="0.9"/>
<text transform="translate(179.4,395.8) rotate(-45) scale(0.88,1)" font-size="6.7" text-anchor="end" fill="#2a2a2a" stroke="#2a2a2a" stroke-width="0.1">0</text>
<line x1="186.3" y1="386.2" x2="186.3" y2="387.8" stroke="#1a1a1a" stroke-width="0.9"/>
<line x1="195.8" y1="386.2" x2="195.8" y2="389" stroke="#1a1a1a" stroke-width="0.9"/>
<text transform="translate(198.4,395.8) rotate(-45) scale(0.88,1)" font-size="6.7" text-anchor="end" fill="#2a2a2a" stroke="#2a2a2a" stroke-width="0.1">500</text>
<line x1="205.3" y1="386.2" x2="205.3" y2="387.8" stroke="#1a1a1a" stroke-width="0.9"/>
<line x1="214.8" y1="386.2" x2="214.8" y2="389" stroke="#1a1a1a" stroke-width="0.9"/>
<text transform="translate(217.4,395.8) rotate(-45) scale(0.88,1)" font-size="6.7" text-anchor="end" fill="#2a2a2a" stroke="#2a2a2a" stroke-width="0.1">1000</text>
<line x1="224.3" y1="386.2" x2="224.3" y2="387.8" stroke="#1a1a1a" stroke-width="0.9"/>
<line x1="233.8" y1="386.2" x2="233.8" y2="389" stroke="#1a1a1a" stroke-width="0.9"/>
<text transform="translate(236.4,395.8) rotate(-45) scale(0.88,1)" font-size="6.7" text-anchor="end" fill="#2a2a2a" stroke="#2a2a2a" stroke-width="0.1">1500</text>
<line x1="243.3" y1="386.2" x2="243.3" y2="387.8" stroke="#1a1a1a" stroke-width="0.9"/>
<line x1="252.8" y1="386.2" x2="252.8" y2="389" stroke="#1a1a1a" stroke-width="0.9"/>
<text transform="translate(255.4,395.8) rotate(-45) scale(0.88,1)" font-size="6.7" text-anchor="end" fill="#2a2a2a" stroke="#2a2a2a" stroke-width="0.1">2000</text>
<line x1="262.3" y1="386.2" x2="262.3" y2="387.8" stroke="#1a1a1a" stroke-width="0.9"/>
<line x1="271.8" y1="386.2" x2="271.8" y2="389" stroke="#1a1a1a" stroke-width="0.9"/>
<text transform="translate(274.4,395.8) rotate(-45) scale(0.88,1)" font-size="6.7" text-anchor="end" fill="#2a2a2a" stroke="#2a2a2a" stroke-width="0.1">2500</text>
<text transform="translate(223.7,415.2) scale(0.6,1)" font-size="8.6" text-anchor="middle" font-weight="bold" fill="#222" stroke="#222" stroke-width="0.15">Days</text>
<text transform="translate(156.3,351) rotate(-90) scale(0.82,1)" font-size="6.9" text-anchor="middle" fill="#222" dominant-baseline="central" stroke="#222" stroke-width="0.25">Dose (g/month)</text>
<text transform="translate(285,294.7)" font-size="10.6" font-weight="bold" fill="#111" stroke="#111" stroke-width="0.6">I</text>
<line x1="323.84" y1="318.4" x2="323.84" y2="386.5" stroke="#9c9c9c" stroke-width="0.9"/>
<text transform="translate(324.24,317.6) rotate(-45) scale(0.8,1)" font-size="7" fill="#2a2a2a" stroke="#2a2a2a" stroke-width="0.1">Year 1</text>
<line x1="337.79" y1="318.4" x2="337.79" y2="386.5" stroke="#9c9c9c" stroke-width="0.9"/>
<text transform="translate(338.19,317.6) rotate(-45) scale(0.8,1)" font-size="7" fill="#2a2a2a" stroke="#2a2a2a" stroke-width="0.1">Year 2</text>
<line x1="351.73" y1="318.4" x2="351.73" y2="386.5" stroke="#9c9c9c" stroke-width="0.9"/>
<text transform="translate(352.13,317.6) rotate(-45) scale(0.8,1)" font-size="7" fill="#2a2a2a" stroke="#2a2a2a" stroke-width="0.1">Year 3</text>
<line x1="365.67" y1="318.4" x2="365.67" y2="386.5" stroke="#9c9c9c" stroke-width="0.9"/>
<text transform="translate(366.07,317.6) rotate(-45) scale(0.8,1)" font-size="7" fill="#2a2a2a" stroke="#2a2a2a" stroke-width="0.1">Year 4</text>
<line x1="379.61" y1="318.4" x2="379.61" y2="386.5" stroke="#9c9c9c" stroke-width="0.9"/>
<text transform="translate(380.01,317.6) rotate(-45) scale(0.8,1)" font-size="7" fill="#2a2a2a" stroke="#2a2a2a" stroke-width="0.1">Year 5</text>
<line x1="393.56" y1="318.4" x2="393.56" y2="386.5" stroke="#9c9c9c" stroke-width="0.9"/>
<text transform="translate(393.96,317.6) rotate(-45) scale(0.8,1)" font-size="7" fill="#2a2a2a" stroke="#2a2a2a" stroke-width="0.1">Year 6</text>
<polyline points="310.3,332 339.1,332 339.1,345.6 344.3,345.6 344.3,352.4 351.3,352.4 351.3,359.2 365.6,359.2 365.6,386.4 380,386.4" fill="none" stroke="#40a6cf" stroke-width="1" stroke-linejoin="round" stroke-linejoin="miter"/>
<line x1="309.8" y1="315.8" x2="309.8" y2="386.5" stroke="#1a1a1a" stroke-width="1.25"/>
<line x1="306.8" y1="318.4" x2="309.8" y2="318.4" stroke="#1a1a1a" stroke-width="0.9"/>
<text transform="translate(304.5,320.9) scale(0.88,1)" font-size="6.7" text-anchor="end" fill="#2a2a2a" stroke="#2a2a2a" stroke-width="0.1">50</text>
<line x1="306.8" y1="332" x2="309.8" y2="332" stroke="#1a1a1a" stroke-width="0.9"/>
<text transform="translate(304.5,334.5) scale(0.88,1)" font-size="6.7" text-anchor="end" fill="#2a2a2a" stroke="#2a2a2a" stroke-width="0.1">40</text>
<line x1="306.8" y1="345.6" x2="309.8" y2="345.6" stroke="#1a1a1a" stroke-width="0.9"/>
<text transform="translate(304.5,348.1) scale(0.88,1)" font-size="6.7" text-anchor="end" fill="#2a2a2a" stroke="#2a2a2a" stroke-width="0.1">30</text>
<line x1="306.8" y1="359.2" x2="309.8" y2="359.2" stroke="#1a1a1a" stroke-width="0.9"/>
<text transform="translate(304.5,361.7) scale(0.88,1)" font-size="6.7" text-anchor="end" fill="#2a2a2a" stroke="#2a2a2a" stroke-width="0.1">20</text>
<line x1="306.8" y1="372.8" x2="309.8" y2="372.8" stroke="#1a1a1a" stroke-width="0.9"/>
<text transform="translate(304.5,375.3) scale(0.88,1)" font-size="6.7" text-anchor="end" fill="#2a2a2a" stroke="#2a2a2a" stroke-width="0.1">10</text>
<line x1="306.8" y1="386.4" x2="309.8" y2="386.4" stroke="#1a1a1a" stroke-width="0.9"/>
<text transform="translate(304.5,388.9) scale(0.88,1)" font-size="6.7" text-anchor="end" fill="#2a2a2a" stroke="#2a2a2a" stroke-width="0.1">0</text>
<line x1="309.3" y1="386.5" x2="407.9" y2="386.5" stroke="#1a1a1a" stroke-width="1.25"/>
<line x1="309.9" y1="386.5" x2="309.9" y2="389.3" stroke="#1a1a1a" stroke-width="0.9"/>
<text transform="translate(312.5,396.1) rotate(-45) scale(0.88,1)" font-size="6.7" text-anchor="end" fill="#2a2a2a" stroke="#2a2a2a" stroke-width="0.1">0</text>
<line x1="319.45" y1="386.5" x2="319.45" y2="388.1" stroke="#1a1a1a" stroke-width="0.9"/>
<line x1="329" y1="386.5" x2="329" y2="389.3" stroke="#1a1a1a" stroke-width="0.9"/>
<text transform="translate(331.6,396.1) rotate(-45) scale(0.88,1)" font-size="6.7" text-anchor="end" fill="#2a2a2a" stroke="#2a2a2a" stroke-width="0.1">500</text>
<line x1="338.55" y1="386.5" x2="338.55" y2="388.1" stroke="#1a1a1a" stroke-width="0.9"/>
<line x1="348.1" y1="386.5" x2="348.1" y2="389.3" stroke="#1a1a1a" stroke-width="0.9"/>
<text transform="translate(350.7,396.1) rotate(-45) scale(0.88,1)" font-size="6.7" text-anchor="end" fill="#2a2a2a" stroke="#2a2a2a" stroke-width="0.1">1000</text>
<line x1="357.65" y1="386.5" x2="357.65" y2="388.1" stroke="#1a1a1a" stroke-width="0.9"/>
<line x1="367.2" y1="386.5" x2="367.2" y2="389.3" stroke="#1a1a1a" stroke-width="0.9"/>
<text transform="translate(369.8,396.1) rotate(-45) scale(0.88,1)" font-size="6.7" text-anchor="end" fill="#2a2a2a" stroke="#2a2a2a" stroke-width="0.1">1500</text>
<line x1="376.75" y1="386.5" x2="376.75" y2="388.1" stroke="#1a1a1a" stroke-width="0.9"/>
<line x1="386.3" y1="386.5" x2="386.3" y2="389.3" stroke="#1a1a1a" stroke-width="0.9"/>
<text transform="translate(388.9,396.1) rotate(-45) scale(0.88,1)" font-size="6.7" text-anchor="end" fill="#2a2a2a" stroke="#2a2a2a" stroke-width="0.1">2000</text>
<line x1="395.85" y1="386.5" x2="395.85" y2="388.1" stroke="#1a1a1a" stroke-width="0.9"/>
<line x1="405.4" y1="386.5" x2="405.4" y2="389.3" stroke="#1a1a1a" stroke-width="0.9"/>
<text transform="translate(408,396.1) rotate(-45) scale(0.88,1)" font-size="6.7" text-anchor="end" fill="#2a2a2a" stroke="#2a2a2a" stroke-width="0.1">2500</text>
<text transform="translate(358.9,415.2) scale(0.6,1)" font-size="8.6" text-anchor="middle" font-weight="bold" fill="#222" stroke="#222" stroke-width="0.15">Days</text>
<text transform="translate(288.5,350.7) rotate(-90) scale(0.82,1)" font-size="6.9" text-anchor="middle" fill="#222" dominant-baseline="central" stroke="#222" stroke-width="0.25">Dose (g/month)</text>
<line x1="415.1" y1="324.9" x2="421.9" y2="324.9" stroke="#d4566e" stroke-width="0.9"/>
<text transform="translate(425.5,327.2) scale(0.88,1)" font-size="6.6" fill="#222" stroke="#222" stroke-width="0.05">Patient 1</text>
<line x1="454.9" y1="324.9" x2="461.7" y2="324.9" stroke="#70bb6e" stroke-width="0.9"/>
<text transform="translate(465.3,327.2) scale(0.88,1)" font-size="6.6" fill="#222" stroke="#222" stroke-width="0.05">Patient 2</text>
<line x1="415.1" y1="334.5" x2="421.9" y2="334.5" stroke="#8a5a9e" stroke-width="0.9"/>
<text transform="translate(425.5,336.8) scale(0.88,1)" font-size="6.6" fill="#222" stroke="#222" stroke-width="0.05">Patient 3</text>
<line x1="454.9" y1="334.5" x2="461.7" y2="334.5" stroke="#efb860" stroke-width="0.9"/>
<text transform="translate(465.3,336.8) scale(0.88,1)" font-size="6.6" fill="#222" stroke="#222" stroke-width="0.05">Patient 5</text>
<line x1="415.1" y1="344.2" x2="421.9" y2="344.2" stroke="#7cbde0" stroke-width="0.9"/>
<text transform="translate(425.5,346.5) scale(0.88,1)" font-size="6.6" fill="#222" stroke="#222" stroke-width="0.05">Patient 6</text>
</g>
<rect x="0.5" y="0.5" width="519" height="423" fill="none" stroke="#626262" stroke-width="1"/>
</svg></body></html>
